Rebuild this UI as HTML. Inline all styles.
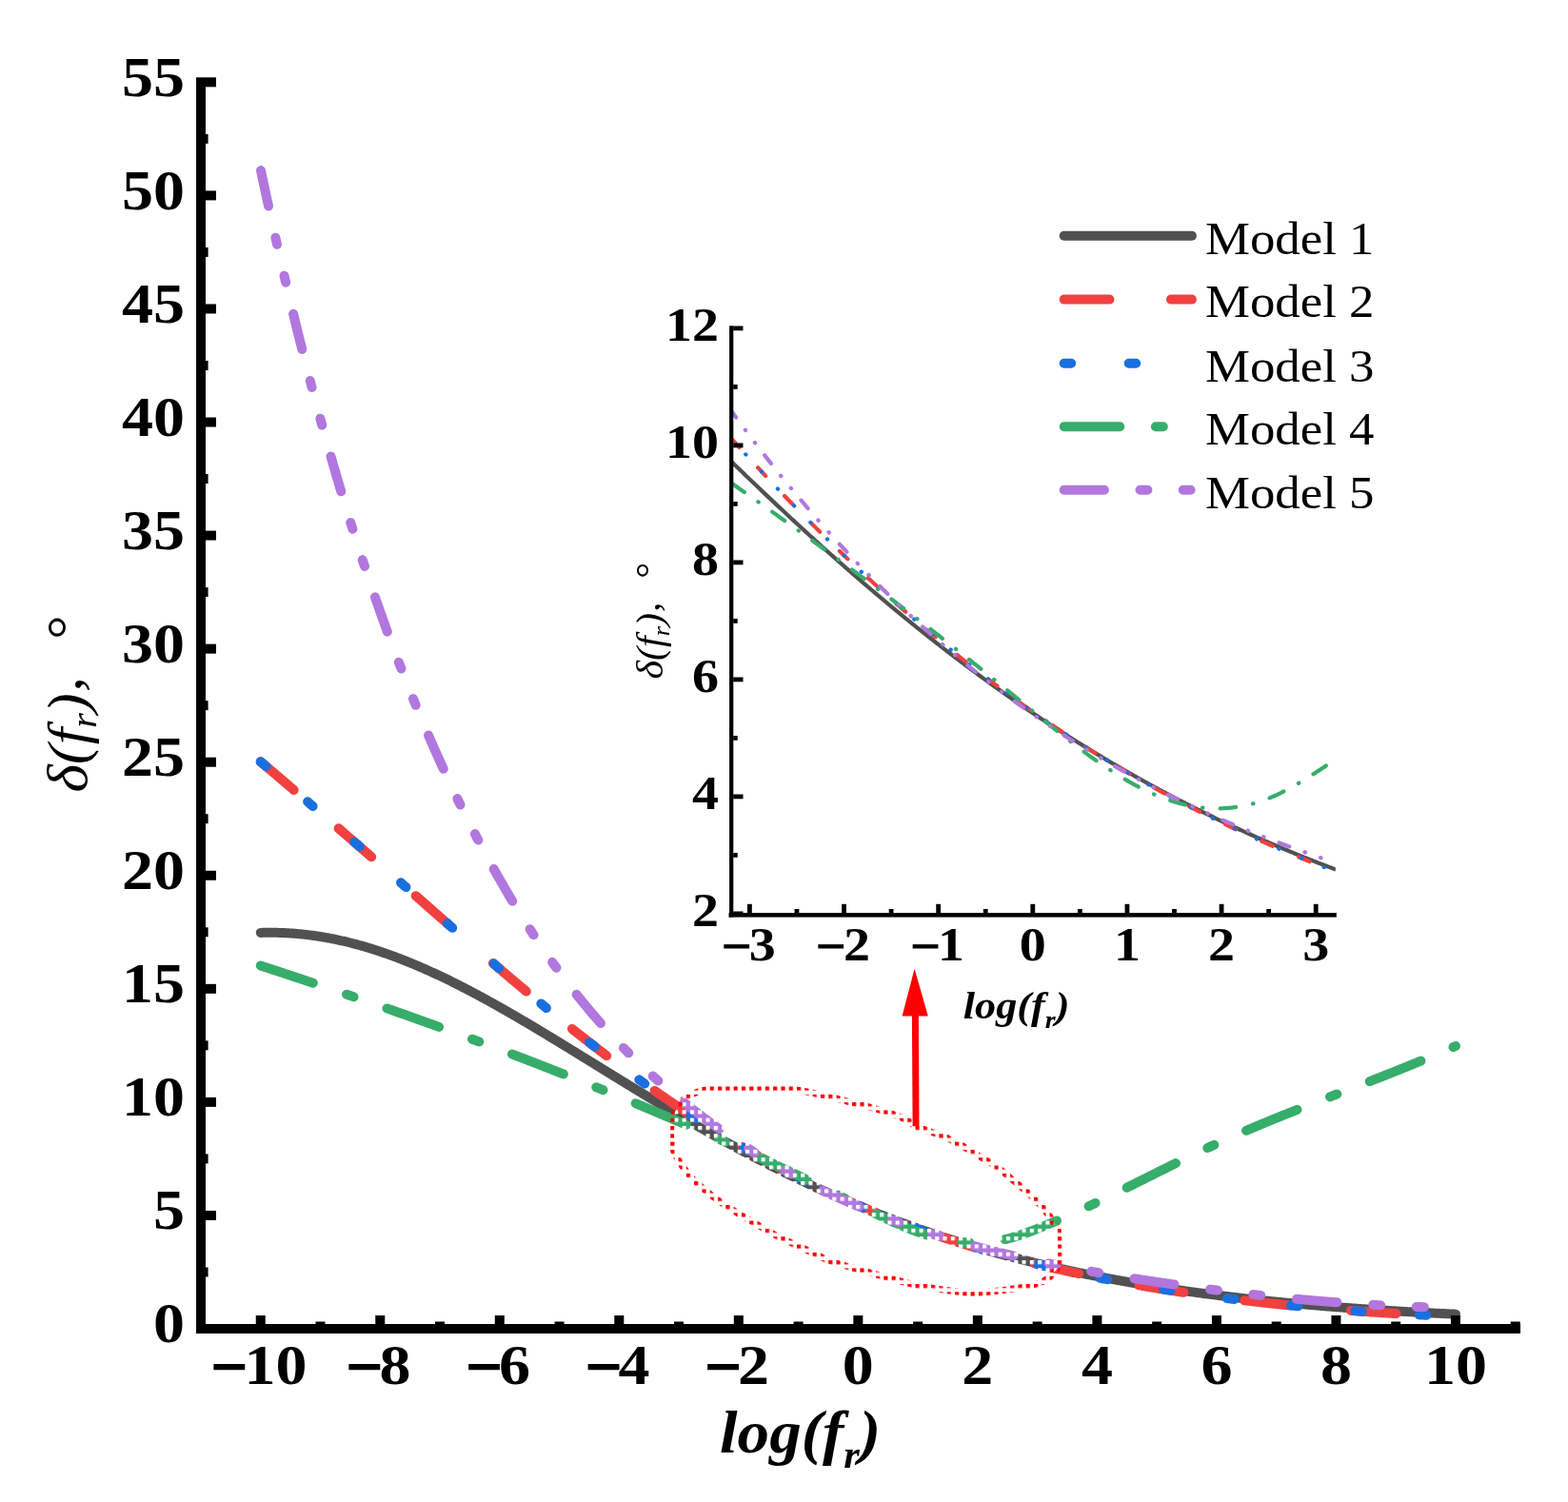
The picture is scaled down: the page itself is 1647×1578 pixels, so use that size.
<!DOCTYPE html>
<html><head><meta charset="utf-8"><title>Phase angle models</title>
<style>html,body{margin:0;padding:0;background:#fff;}svg{display:block;}
text{font-family:"Liberation Serif","DejaVu Serif",serif;fill:#000;}</style></head><body>
<svg width="1647" height="1578" viewBox="0 0 1647 1578">
<rect x="0" y="0" width="1647" height="1578" fill="#fff"/>
<defs>
<pattern id="pw" patternUnits="userSpaceOnUse" x="2.8" y="4.3" width="8.3" height="8.3"><rect x="0" y="0" width="4.1" height="4.1" fill="#fff"/></pattern>
<pattern id="pr" patternUnits="userSpaceOnUse" x="7.0" y="4.4" width="8.3" height="8.3"><rect x="0" y="0" width="4.2" height="4.2" fill="#f00"/></pattern>
<clipPath id="inclip"><rect x="768.2" y="300" width="634.6" height="700"/></clipPath>
</defs>
<path d="M273.75,979.93 L274.80,979.89 L275.84,979.87 L276.89,979.84 L277.94,979.82 L278.98,979.80 L280.03,979.79 L281.08,979.78 L282.12,979.77 L283.17,979.76 L284.22,979.76 L285.27,979.77 L286.31,979.77 L287.36,979.78 L288.41,979.79 L289.45,979.81 L290.50,979.83 L291.55,979.85 L292.59,979.88 L293.64,979.91 L294.69,979.94 L295.73,979.98 L296.78,980.02 L297.83,980.06 L298.87,980.11 L299.92,980.16 L300.97,980.21 L302.02,980.27 L303.06,980.33 L304.11,980.39 L305.16,980.46 L306.20,980.53 L307.25,980.60 L308.30,980.68 L309.34,980.76 L310.39,980.84 L311.44,980.93 L312.48,981.02 L313.53,981.11 L314.58,981.21 L315.62,981.31 L316.67,981.42 L317.72,981.52 L318.77,981.63 L319.81,981.75 L320.86,981.87 L321.91,981.99 L322.95,982.11 L324.00,982.24 L325.05,982.37 L326.09,982.50 L327.14,982.64 L328.19,982.78 L329.23,982.92 L330.28,983.07 L331.33,983.22 L332.37,983.37 L333.42,983.53 L334.47,983.69 L335.52,983.85 L336.56,984.02 L337.61,984.19 L338.66,984.36 L339.70,984.54 L340.75,984.72 L341.80,984.90 L342.84,985.09 L343.89,985.28 L344.94,985.47 L345.98,985.67 L347.03,985.87 L348.08,986.07 L349.12,986.27 L350.17,986.48 L351.22,986.69 L352.27,986.91 L353.31,987.13 L354.36,987.35 L355.41,987.57 L356.45,987.80 L357.50,988.03 L358.55,988.26 L359.59,988.50 L360.64,988.74 L361.69,988.98 L362.73,989.23 L363.78,989.48 L364.83,989.73 L365.87,989.99 L366.92,990.25 L367.97,990.51 L369.02,990.77 L370.06,991.04 L371.11,991.31 L372.16,991.58 L373.20,991.86 L374.25,992.14 L375.30,992.42 L376.34,992.71 L377.39,993.00 L378.44,993.29 L379.48,993.58 L380.53,993.88 L381.58,994.18 L382.62,994.49 L383.67,994.79 L384.72,995.10 L385.77,995.41 L386.81,995.73 L387.86,996.05 L388.91,996.37 L389.95,996.69 L391.00,997.02 L392.05,997.35 L393.09,997.68 L394.14,998.02 L395.19,998.35 L396.23,998.69 L397.28,999.04 L398.33,999.38 L399.37,999.73 L400.42,1000.09 L401.47,1000.44 L402.52,1000.80 L403.56,1001.16 L404.61,1001.52 L405.66,1001.89 L406.70,1002.25 L407.75,1002.63 L408.80,1003.00 L409.84,1003.38 L410.89,1003.75 L411.94,1004.14 L412.98,1004.52 L414.03,1004.91 L415.08,1005.30 L416.12,1005.69 L417.17,1006.08 L418.22,1006.48 L419.27,1006.88 L420.31,1007.28 L421.36,1007.69 L422.41,1008.09 L423.45,1008.50 L424.50,1008.92 L425.55,1009.33 L426.59,1009.75 L427.64,1010.17 L428.69,1010.59 L429.73,1011.02 L430.78,1011.44 L431.83,1011.87 L432.87,1012.30 L433.92,1012.74 L434.97,1013.18 L436.02,1013.62 L437.06,1014.06 L438.11,1014.50 L439.16,1014.95 L440.20,1015.40 L441.25,1015.85 L442.30,1016.30 L443.34,1016.75 L444.39,1017.21 L445.44,1017.67 L446.48,1018.13 L447.53,1018.60 L448.58,1019.06 L449.62,1019.53 L450.67,1020.00 L451.72,1020.48 L452.77,1020.95 L453.81,1021.43 L454.86,1021.91 L455.91,1022.39 L456.95,1022.87 L458.00,1023.36 L459.05,1023.85 L460.09,1024.34 L461.14,1024.83 L462.19,1025.32 L463.23,1025.82 L464.28,1026.32 L465.33,1026.82 L466.37,1027.32 L467.42,1027.83 L468.47,1028.33 L469.52,1028.84 L470.56,1029.35 L471.61,1029.86 L472.66,1030.37 L473.70,1030.89 L474.75,1031.41 L475.80,1031.93 L476.84,1032.45 L477.89,1032.97 L478.94,1033.50 L479.98,1034.02 L481.03,1034.55 L482.08,1035.08 L483.12,1035.61 L484.17,1036.15 L485.22,1036.68 L486.27,1037.22 L487.31,1037.76 L488.36,1038.30 L489.41,1038.84 L490.45,1039.39 L491.50,1039.93 L492.55,1040.48 L493.59,1041.03 L494.64,1041.58 L495.69,1042.13 L496.73,1042.68 L497.78,1043.24 L498.83,1043.80 L499.87,1044.35 L500.92,1044.91 L501.97,1045.48 L503.02,1046.04 L504.06,1046.60 L505.11,1047.17 L506.16,1047.74 L507.20,1048.31 L508.25,1048.88 L509.30,1049.45 L510.34,1050.02 L511.39,1050.59 L512.44,1051.17 L513.48,1051.75 L514.53,1052.33 L515.58,1052.91 L516.62,1053.49 L517.67,1054.07 L518.72,1054.65 L519.77,1055.24 L520.81,1055.82 L521.86,1056.41 L522.91,1057.00 L523.95,1057.59 L525.00,1058.18 L526.05,1058.77 L527.09,1059.37 L528.14,1059.96 L529.19,1060.56 L530.23,1061.15 L531.28,1061.75 L532.33,1062.35 L533.37,1062.95 L534.42,1063.55 L535.47,1064.16 L536.51,1064.76 L537.56,1065.36 L538.61,1065.97 L539.66,1066.58 L540.70,1067.18 L541.75,1067.79 L542.80,1068.40 L543.84,1069.01 L544.89,1069.62 L545.94,1070.24 L546.98,1070.85 L548.03,1071.46 L549.08,1072.08 L550.12,1072.70 L551.17,1073.31 L552.22,1073.93 L553.26,1074.55 L554.31,1075.17 L555.36,1075.79 L556.41,1076.41 L557.45,1077.03 L558.50,1077.65 L559.55,1078.28 L560.59,1078.90 L561.64,1079.53 L562.69,1080.15 L563.73,1080.78 L564.78,1081.40 L565.83,1082.03 L566.87,1082.66 L567.92,1083.29 L568.97,1083.92 L570.01,1084.55 L571.06,1085.18 L572.11,1085.81 L573.16,1086.44 L574.20,1087.08 L575.25,1087.71 L576.30,1088.34 L577.34,1088.98 L578.39,1089.61 L579.44,1090.25 L580.48,1090.88 L581.53,1091.52 L582.58,1092.16 L583.62,1092.79 L584.67,1093.43 L585.72,1094.07 L586.76,1094.71 L587.81,1095.35 L588.86,1095.99 L589.91,1096.63 L590.95,1097.27 L592.00,1097.91 L593.05,1098.55 L594.09,1099.19 L595.14,1099.83 L596.19,1100.47 L597.23,1101.11 L598.28,1101.76 L599.33,1102.40 L600.37,1103.04 L601.42,1103.68 L602.47,1104.33 L603.51,1104.97 L604.56,1105.62 L605.61,1106.26 L606.66,1106.90 L607.70,1107.55 L608.75,1108.19 L609.80,1108.84 L610.84,1109.48 L611.89,1110.13 L612.94,1110.77 L613.98,1111.42 L615.03,1112.07 L616.08,1112.71 L617.12,1113.36 L618.17,1114.00 L619.22,1114.65 L620.26,1115.30 L621.31,1115.94 L622.36,1116.59 L623.41,1117.23 L624.45,1117.88 L625.50,1118.53 L626.55,1119.17 L627.59,1119.82 L628.64,1120.46 L629.69,1121.11 L630.73,1121.76 L631.78,1122.40 L632.83,1123.05 L633.87,1123.69 L634.92,1124.34 L635.97,1124.99 L637.01,1125.63 L638.06,1126.28 L639.11,1126.92 L640.16,1127.57 L641.20,1128.21 L642.25,1128.86 L643.30,1129.50 L644.34,1130.15 L645.39,1130.79 L646.44,1131.44 L647.48,1132.08 L648.53,1132.72 L649.58,1133.37 L650.62,1134.01 L651.67,1134.65 L652.72,1135.30 L653.76,1135.94 L654.81,1136.58 L655.86,1137.22 L656.91,1137.86 L657.95,1138.51 L659.00,1139.15 L660.05,1139.79 L661.09,1140.43 L662.14,1141.07 L663.19,1141.71 L664.23,1142.35 L665.28,1142.99 L666.33,1143.63 L667.37,1144.26 L668.42,1144.90 L669.47,1145.54 L670.51,1146.18 L671.56,1146.81 L672.61,1147.45 L673.66,1148.09 L674.70,1148.72 L675.75,1149.36 L676.80,1149.99 L677.84,1150.62 L678.89,1151.26 L679.94,1151.89 L680.98,1152.52 L682.03,1153.16 L683.08,1153.79 L684.12,1154.42 L685.17,1155.05 L686.22,1155.68 L687.26,1156.31 L688.31,1156.94 L689.36,1157.57 L690.41,1158.20 L691.45,1158.82 L692.50,1159.45 L693.55,1160.08 L694.59,1160.70 L695.64,1161.33 L696.69,1161.95 L697.73,1162.58 L698.78,1163.20 L699.83,1163.82 L700.87,1164.44 L701.92,1165.06 L702.97,1165.69 L704.01,1166.31 L705.06,1166.93 L706.11,1167.54 L707.16,1168.16 L708.20,1168.78 L709.25,1169.40 L710.30,1170.01 L711.34,1170.63 L712.39,1171.24 L713.44,1171.86 L714.48,1172.47 L715.53,1173.08 L716.58,1173.70 L717.62,1174.31 L718.67,1174.92 L719.72,1175.53 L720.76,1176.14 L721.81,1176.75 L722.86,1177.35 L723.91,1177.96 L724.95,1178.57 L726.00,1179.17 L727.05,1179.78 L728.09,1180.38 L729.14,1180.98 L730.19,1181.58 L731.23,1182.19 L732.28,1182.79 L733.33,1183.39 L734.37,1183.99 L735.42,1184.58 L736.47,1185.18 L737.51,1185.78 L738.56,1186.37 L739.61,1186.97 L740.66,1187.56 L741.70,1188.16 L742.75,1188.75 L743.80,1189.34 L744.84,1189.93 L745.89,1190.52 L746.94,1191.11 L747.98,1191.70 L749.03,1192.28 L750.08,1192.87 L751.12,1193.45 L752.17,1194.04 L753.22,1194.62 L754.26,1195.20 L755.31,1195.79 L756.36,1196.37 L757.41,1196.95 L758.45,1197.53 L759.50,1198.10 L760.55,1198.68 L761.59,1199.26 L762.64,1199.83 L763.69,1200.41 L764.73,1200.98 L765.78,1201.55 L766.83,1202.12 L767.87,1202.69 L768.92,1203.26 L769.97,1203.83 L771.01,1204.40 L772.06,1204.97 L773.11,1205.53 L774.16,1206.10 L775.20,1206.66 L776.25,1207.22 L777.30,1207.79 L778.34,1208.35 L779.39,1208.91 L780.44,1209.47 L781.48,1210.02 L782.53,1210.58 L783.58,1211.14 L784.62,1211.69 L785.67,1212.24 L786.72,1212.80 L787.76,1213.35 L788.81,1213.90 L789.86,1214.45 L790.90,1215.00 L791.95,1215.55 L793.00,1216.09 L794.05,1216.64 L795.09,1217.18 L796.14,1217.73 L797.19,1218.27 L798.23,1218.81 L799.28,1219.35 L800.33,1219.89 L801.37,1220.43 L802.42,1220.97 L803.47,1221.50 L804.51,1222.04 L805.56,1222.57 L806.61,1223.10 L807.65,1223.64 L808.70,1224.17 L809.75,1224.70 L810.80,1225.23 L811.84,1225.75 L812.89,1226.28 L813.94,1226.80 L814.98,1227.33 L816.03,1227.85 L817.08,1228.38 L818.12,1228.90 L819.17,1229.42 L820.22,1229.94 L821.26,1230.45 L822.31,1230.97 L823.36,1231.49 L824.40,1232.00 L825.45,1232.51 L826.50,1233.03 L827.55,1233.54 L828.59,1234.05 L829.64,1234.56 L830.69,1235.07 L831.73,1235.57 L832.78,1236.08 L833.83,1236.58 L834.87,1237.09 L835.92,1237.59 L836.97,1238.09 L838.01,1238.59 L839.06,1239.09 L840.11,1239.59 L841.15,1240.09 L842.20,1240.58 L843.25,1241.08 L844.30,1241.57 L845.34,1242.06 L846.39,1242.55 L847.44,1243.04 L848.48,1243.53 L849.53,1244.02 L850.58,1244.51 L851.62,1245.00 L852.67,1245.48 L853.72,1245.96 L854.76,1246.45 L855.81,1246.93 L856.86,1247.41 L857.90,1247.89 L858.95,1248.36 L860.00,1248.84 L861.05,1249.32 L862.09,1249.79 L863.14,1250.27 L864.19,1250.74 L865.23,1251.21 L866.28,1251.68 L867.33,1252.15 L868.37,1252.62 L869.42,1253.08 L870.47,1253.55 L871.51,1254.01 L872.56,1254.48 L873.61,1254.94 L874.65,1255.40 L875.70,1255.86 L876.75,1256.32 L877.80,1256.78 L878.84,1257.23 L879.89,1257.69 L880.94,1258.14 L881.98,1258.59 L883.03,1259.05 L884.08,1259.50 L885.12,1259.95 L886.17,1260.40 L887.22,1260.84 L888.26,1261.29 L889.31,1261.74 L890.36,1262.18 L891.40,1262.62 L892.45,1263.06 L893.50,1263.50 L894.55,1263.94 L895.59,1264.38 L896.64,1264.82 L897.69,1265.26 L898.73,1265.69 L899.78,1266.13 L900.83,1266.56 L901.87,1266.99 L902.92,1267.42 L903.97,1267.85 L905.01,1268.28 L906.06,1268.71 L907.11,1269.13 L908.15,1269.56 L909.20,1269.98 L910.25,1270.40 L911.30,1270.82 L912.34,1271.25 L913.39,1271.66 L914.44,1272.08 L915.48,1272.50 L916.53,1272.92 L917.58,1273.33 L918.62,1273.74 L919.67,1274.16 L920.72,1274.57 L921.76,1274.98 L922.81,1275.39 L923.86,1275.80 L924.90,1276.20 L925.95,1276.61 L927.00,1277.01 L928.05,1277.42 L929.09,1277.82 L930.14,1278.22 L931.19,1278.62 L932.23,1279.02 L933.28,1279.42 L934.33,1279.82 L935.37,1280.21 L936.42,1280.61 L937.47,1281.00 L938.51,1281.40 L939.56,1281.79 L940.61,1282.18 L941.65,1282.57 L942.70,1282.96 L943.75,1283.34 L944.80,1283.73 L945.84,1284.11 L946.89,1284.50 L947.94,1284.88 L948.98,1285.26 L950.03,1285.64 L951.08,1286.02 L952.12,1286.40 L953.17,1286.78 L954.22,1287.16 L955.26,1287.53 L956.31,1287.90 L957.36,1288.28 L958.40,1288.65 L959.45,1289.02 L960.50,1289.39 L961.55,1289.76 L962.59,1290.13 L963.64,1290.49 L964.69,1290.86 L965.73,1291.23 L966.78,1291.59 L967.83,1291.95 L968.87,1292.31 L969.92,1292.67 L970.97,1293.03 L972.01,1293.39 L973.06,1293.75 L974.11,1294.10 L975.15,1294.46 L976.20,1294.81 L977.25,1295.17 L978.30,1295.52 L979.34,1295.87 L980.39,1296.22 L981.44,1296.57 L982.48,1296.92 L983.53,1297.26 L984.58,1297.61 L985.62,1297.95 L986.67,1298.30 L987.72,1298.64 L988.76,1298.98 L989.81,1299.32 L990.86,1299.66 L991.90,1300.00 L992.95,1300.34 L994.00,1300.67 L995.05,1301.01 L996.09,1301.34 L997.14,1301.68 L998.19,1302.01 L999.23,1302.34 L1000.28,1302.67 L1001.33,1303.00 L1002.37,1303.33 L1003.42,1303.66 L1004.47,1303.98 L1005.51,1304.31 L1006.56,1304.63 L1007.61,1304.95 L1008.65,1305.28 L1009.70,1305.60 L1010.75,1305.92 L1011.80,1306.24 L1012.84,1306.56 L1013.89,1306.87 L1014.94,1307.19 L1015.98,1307.51 L1017.03,1307.82 L1018.08,1308.13 L1019.12,1308.45 L1020.17,1308.76 L1021.22,1309.07 L1022.26,1309.38 L1023.31,1309.69 L1024.36,1309.99 L1025.40,1310.30 L1026.45,1310.61 L1027.50,1310.91 L1028.54,1311.21 L1029.59,1311.52 L1030.64,1311.82 L1031.69,1312.12 L1032.73,1312.42 L1033.78,1312.72 L1034.83,1313.02 L1035.87,1313.31 L1036.92,1313.61 L1037.97,1313.90 L1039.01,1314.20 L1040.06,1314.49 L1041.11,1314.78 L1042.15,1315.08 L1043.20,1315.37 L1044.25,1315.66 L1045.29,1315.94 L1046.34,1316.23 L1047.39,1316.52 L1048.44,1316.80 L1049.48,1317.09 L1050.53,1317.37 L1051.58,1317.66 L1052.62,1317.94 L1053.67,1318.22 L1054.72,1318.50 L1055.76,1318.78 L1056.81,1319.06 L1057.86,1319.33 L1058.90,1319.61 L1059.95,1319.89 L1061.00,1320.16 L1062.04,1320.44 L1063.09,1320.71 L1064.14,1320.98 L1065.19,1321.25 L1066.23,1321.52 L1067.28,1321.79 L1068.33,1322.06 L1069.37,1322.33 L1070.42,1322.60 L1071.47,1322.86 L1072.51,1323.13 L1073.56,1323.39 L1074.61,1323.65 L1075.65,1323.92 L1076.70,1324.18 L1077.75,1324.44 L1078.79,1324.70 L1079.84,1324.96 L1080.89,1325.22 L1081.94,1325.47 L1082.98,1325.73 L1084.03,1325.98 L1085.08,1326.24 L1086.12,1326.49 L1087.17,1326.75 L1088.22,1327.00 L1089.26,1327.25 L1090.31,1327.50 L1091.36,1327.75 L1092.40,1328.00 L1093.45,1328.25 L1094.50,1328.49 L1095.54,1328.74 L1096.59,1328.98 L1097.64,1329.23 L1098.69,1329.47 L1099.73,1329.72 L1100.78,1329.96 L1101.83,1330.20 L1102.87,1330.44 L1103.92,1330.68 L1104.97,1330.92 L1106.01,1331.16 L1107.06,1331.39 L1108.11,1331.63 L1109.15,1331.87 L1110.20,1332.10 L1111.25,1332.33 L1112.29,1332.57 L1113.34,1332.80 L1114.39,1333.03 L1115.44,1333.26 L1116.48,1333.49 L1117.53,1333.72 L1118.58,1333.95 L1119.62,1334.18 L1120.67,1334.40 L1121.72,1334.63 L1122.76,1334.85 L1123.81,1335.08 L1124.86,1335.30 L1125.90,1335.53 L1126.95,1335.75 L1128.00,1335.97 L1129.04,1336.19 L1130.09,1336.41 L1131.14,1336.63 L1132.19,1336.85 L1133.23,1337.06 L1134.28,1337.28 L1135.33,1337.50 L1136.37,1337.71 L1137.42,1337.93 L1138.47,1338.14 L1139.51,1338.35 L1140.56,1338.57 L1141.61,1338.78 L1142.65,1338.99 L1143.70,1339.20 L1144.75,1339.41 L1145.79,1339.62 L1146.84,1339.82 L1147.89,1340.03 L1148.94,1340.24 L1149.98,1340.44 L1151.03,1340.65 L1152.08,1340.85 L1153.12,1341.06 L1154.17,1341.26 L1155.22,1341.46 L1156.26,1341.66 L1157.31,1341.86 L1158.36,1342.06 L1159.40,1342.26 L1160.45,1342.46 L1161.50,1342.66 L1162.54,1342.86 L1163.59,1343.05 L1164.64,1343.25 L1165.69,1343.44 L1166.73,1343.64 L1167.78,1343.83 L1168.83,1344.02 L1169.87,1344.22 L1170.92,1344.41 L1171.97,1344.60 L1173.01,1344.79 L1174.06,1344.98 L1175.11,1345.17 L1176.15,1345.35 L1177.20,1345.54 L1178.25,1345.73 L1179.29,1345.91 L1180.34,1346.10 L1181.39,1346.28 L1182.44,1346.47 L1183.48,1346.65 L1184.53,1346.83 L1185.58,1347.02 L1186.62,1347.20 L1187.67,1347.38 L1188.72,1347.56 L1189.76,1347.74 L1190.81,1347.92 L1191.86,1348.10 L1192.90,1348.27 L1193.95,1348.45 L1195.00,1348.63 L1196.04,1348.80 L1197.09,1348.98 L1198.14,1349.15 L1199.19,1349.32 L1200.23,1349.50 L1201.28,1349.67 L1202.33,1349.84 L1203.37,1350.01 L1204.42,1350.18 L1205.47,1350.35 L1206.51,1350.52 L1207.56,1350.69 L1208.61,1350.86 L1209.65,1351.03 L1210.70,1351.19 L1211.75,1351.36 L1212.79,1351.52 L1213.84,1351.69 L1214.89,1351.85 L1215.94,1352.02 L1216.98,1352.18 L1218.03,1352.34 L1219.08,1352.50 L1220.12,1352.67 L1221.17,1352.83 L1222.22,1352.99 L1223.26,1353.15 L1224.31,1353.30 L1225.36,1353.46 L1226.40,1353.62 L1227.45,1353.78 L1228.50,1353.93 L1229.54,1354.09 L1230.59,1354.25 L1231.64,1354.40 L1232.69,1354.55 L1233.73,1354.71 L1234.78,1354.86 L1235.83,1355.01 L1236.87,1355.17 L1237.92,1355.32 L1238.97,1355.47 L1240.01,1355.62 L1241.06,1355.77 L1242.11,1355.92 L1243.15,1356.07 L1244.20,1356.21 L1245.25,1356.36 L1246.29,1356.51 L1247.34,1356.65 L1248.39,1356.80 L1249.44,1356.94 L1250.48,1357.09 L1251.53,1357.23 L1252.58,1357.38 L1253.62,1357.52 L1254.67,1357.66 L1255.72,1357.80 L1256.76,1357.95 L1257.81,1358.09 L1258.86,1358.23 L1259.90,1358.37 L1260.95,1358.51 L1262.00,1358.64 L1263.04,1358.78 L1264.09,1358.92 L1265.14,1359.06 L1266.19,1359.19 L1267.23,1359.33 L1268.28,1359.47 L1269.33,1359.60 L1270.37,1359.74 L1271.42,1359.87 L1272.47,1360.00 L1273.51,1360.14 L1274.56,1360.27 L1275.61,1360.40 L1276.65,1360.53 L1277.70,1360.66 L1278.75,1360.79 L1279.79,1360.92 L1280.84,1361.05 L1281.89,1361.18 L1282.93,1361.31 L1283.98,1361.44 L1285.03,1361.57 L1286.08,1361.69 L1287.12,1361.82 L1288.17,1361.94 L1289.22,1362.07 L1290.26,1362.20 L1291.31,1362.32 L1292.36,1362.44 L1293.40,1362.57 L1294.45,1362.69 L1295.50,1362.81 L1296.54,1362.94 L1297.59,1363.06 L1298.64,1363.18 L1299.68,1363.30 L1300.73,1363.42 L1301.78,1363.54 L1302.83,1363.66 L1303.87,1363.78 L1304.92,1363.90 L1305.97,1364.01 L1307.01,1364.13 L1308.06,1364.25 L1309.11,1364.36 L1310.15,1364.48 L1311.20,1364.60 L1312.25,1364.71 L1313.29,1364.83 L1314.34,1364.94 L1315.39,1365.05 L1316.43,1365.17 L1317.48,1365.28 L1318.53,1365.39 L1319.58,1365.50 L1320.62,1365.62 L1321.67,1365.73 L1322.72,1365.84 L1323.76,1365.95 L1324.81,1366.06 L1325.86,1366.17 L1326.90,1366.28 L1327.95,1366.38 L1329.00,1366.49 L1330.04,1366.60 L1331.09,1366.71 L1332.14,1366.81 L1333.18,1366.92 L1334.23,1367.03 L1335.28,1367.13 L1336.33,1367.24 L1337.37,1367.34 L1338.42,1367.44 L1339.47,1367.55 L1340.51,1367.65 L1341.56,1367.75 L1342.61,1367.86 L1343.65,1367.96 L1344.70,1368.06 L1345.75,1368.16 L1346.79,1368.26 L1347.84,1368.36 L1348.89,1368.46 L1349.93,1368.56 L1350.98,1368.66 L1352.03,1368.76 L1353.08,1368.86 L1354.12,1368.96 L1355.17,1369.06 L1356.22,1369.15 L1357.26,1369.25 L1358.31,1369.35 L1359.36,1369.44 L1360.40,1369.54 L1361.45,1369.63 L1362.50,1369.73 L1363.54,1369.82 L1364.59,1369.92 L1365.64,1370.01 L1366.68,1370.10 L1367.73,1370.20 L1368.78,1370.29 L1369.83,1370.38 L1370.87,1370.47 L1371.92,1370.57 L1372.97,1370.66 L1374.01,1370.75 L1375.06,1370.84 L1376.11,1370.93 L1377.15,1371.02 L1378.20,1371.11 L1379.25,1371.20 L1380.29,1371.28 L1381.34,1371.37 L1382.39,1371.46 L1383.43,1371.55 L1384.48,1371.63 L1385.53,1371.72 L1386.58,1371.81 L1387.62,1371.89 L1388.67,1371.98 L1389.72,1372.06 L1390.76,1372.15 L1391.81,1372.23 L1392.86,1372.32 L1393.90,1372.40 L1394.95,1372.49 L1396.00,1372.57 L1397.04,1372.65 L1398.09,1372.73 L1399.14,1372.82 L1400.18,1372.90 L1401.23,1372.98 L1402.28,1373.06 L1403.33,1373.14 L1404.37,1373.22 L1405.42,1373.30 L1406.47,1373.38 L1407.51,1373.46 L1408.56,1373.54 L1409.61,1373.62 L1410.65,1373.70 L1411.70,1373.77 L1412.75,1373.85 L1413.79,1373.93 L1414.84,1374.01 L1415.89,1374.08 L1416.93,1374.16 L1417.98,1374.24 L1419.03,1374.31 L1420.08,1374.39 L1421.12,1374.46 L1422.17,1374.54 L1423.22,1374.61 L1424.26,1374.69 L1425.31,1374.76 L1426.36,1374.83 L1427.40,1374.91 L1428.45,1374.98 L1429.50,1375.05 L1430.54,1375.12 L1431.59,1375.20 L1432.64,1375.27 L1433.68,1375.34 L1434.73,1375.41 L1435.78,1375.48 L1436.83,1375.55 L1437.87,1375.62 L1438.92,1375.69 L1439.97,1375.76 L1441.01,1375.83 L1442.06,1375.90 L1443.11,1375.97 L1444.15,1376.03 L1445.20,1376.10 L1446.25,1376.17 L1447.29,1376.24 L1448.34,1376.30 L1449.39,1376.37 L1450.43,1376.44 L1451.48,1376.50 L1452.53,1376.57 L1453.58,1376.64 L1454.62,1376.70 L1455.67,1376.77 L1456.72,1376.83 L1457.76,1376.89 L1458.81,1376.96 L1459.86,1377.02 L1460.90,1377.09 L1461.95,1377.15 L1463.00,1377.21 L1464.04,1377.28 L1465.09,1377.34 L1466.14,1377.40 L1467.18,1377.46 L1468.23,1377.52 L1469.28,1377.59 L1470.33,1377.65 L1471.37,1377.71 L1472.42,1377.77 L1473.47,1377.83 L1474.51,1377.89 L1475.56,1377.95 L1476.61,1378.01 L1477.65,1378.07 L1478.70,1378.13 L1479.75,1378.18 L1480.79,1378.24 L1481.84,1378.30 L1482.89,1378.36 L1483.93,1378.42 L1484.98,1378.47 L1486.03,1378.53 L1487.08,1378.59 L1488.12,1378.64 L1489.17,1378.70 L1490.22,1378.76 L1491.26,1378.81 L1492.31,1378.87 L1493.36,1378.92 L1494.40,1378.98 L1495.45,1379.03 L1496.50,1379.09 L1497.54,1379.14 L1498.59,1379.20 L1499.64,1379.25 L1500.68,1379.30 L1501.73,1379.36 L1502.78,1379.41 L1503.83,1379.46 L1504.87,1379.51 L1505.92,1379.57 L1506.97,1379.62 L1508.01,1379.67 L1509.06,1379.72 L1510.11,1379.77 L1511.15,1379.82 L1512.20,1379.87 L1513.25,1379.93 L1514.29,1379.98 L1515.34,1380.03 L1516.39,1380.08 L1517.43,1380.12 L1518.48,1380.17 L1519.53,1380.22 L1520.58,1380.27 L1521.62,1380.32 L1522.67,1380.37 L1523.72,1380.42 L1524.76,1380.47 L1525.81,1380.51 L1526.86,1380.56 L1527.90,1380.61 L1528.95,1380.66" fill="none" stroke="#515151" stroke-width="10" stroke-linecap="round" stroke-linejoin="round"/>
<path d="M273.75,800.23 L274.80,801.12 L275.84,802.01 L276.89,802.90 L277.94,803.79 L278.98,804.68 L280.03,805.57 L281.08,806.46 L282.12,807.35 L283.17,808.24 L284.22,809.13 L285.27,810.01 L286.31,810.90 L287.36,811.79 L288.41,812.68 L289.45,813.57 L290.50,814.46 L291.55,815.35 L292.59,816.24 L293.64,817.14 L294.69,818.03 L295.73,818.92 L296.78,819.81 L297.83,820.70 L298.87,821.59 L299.92,822.48 L300.97,823.37 L302.02,824.27 L303.06,825.16 L304.11,826.05 L305.16,826.94 L306.20,827.84 L307.25,828.73 L308.30,829.62 L308.63,829.91M355.66,870.30 L356.45,870.99 L357.50,871.90 L358.55,872.80 L359.59,873.71 L360.64,874.62 L361.69,875.52 L362.73,876.43 L363.78,877.34 L364.83,878.25 L365.87,879.16 L366.92,880.06 L367.97,880.97 L369.02,881.88 L370.06,882.79 L371.11,883.70 L372.16,884.61 L373.20,885.52 L374.25,886.43 L375.30,887.34 L376.34,888.25 L377.39,889.17 L378.44,890.08 L379.48,890.99 L380.53,891.90 L381.58,892.81 L382.62,893.73 L383.67,894.64 L384.72,895.55 L385.77,896.47 L386.81,897.38 L387.86,898.29 L388.91,899.21 L389.95,900.12 L390.18,900.32M436.75,941.15 L437.06,941.42 L438.11,942.34 L439.16,943.26 L440.20,944.18 L441.25,945.10 L442.30,946.02 L443.34,946.94 L444.39,947.86 L445.44,948.78 L446.48,949.70 L447.53,950.62 L448.58,951.54 L449.62,952.46 L450.67,953.38 L451.72,954.30 L452.77,955.22 L453.81,956.13 L454.86,957.05 L455.91,957.97 L456.95,958.89 L458.00,959.81 L459.05,960.73 L460.09,961.65 L461.14,962.56 L462.19,963.48 L463.23,964.40 L464.28,965.32 L465.33,966.23 L466.37,967.15 L467.42,968.07 L468.47,968.99 L469.52,969.90 L470.56,970.82 L471.12,971.31M517.91,1011.93 L518.72,1012.62 L519.77,1013.52 L520.81,1014.42 L521.86,1015.32 L522.91,1016.21 L523.95,1017.11 L525.00,1018.00 L526.05,1018.90 L527.09,1019.79 L528.14,1020.69 L529.19,1021.58 L530.23,1022.47 L531.28,1023.36 L532.33,1024.26 L533.37,1025.15 L534.42,1026.04 L535.47,1026.93 L536.51,1027.81 L537.56,1028.70 L538.61,1029.59 L539.66,1030.47 L540.70,1031.36 L541.75,1032.25 L542.80,1033.13 L543.84,1034.01 L544.89,1034.90 L545.94,1035.78 L546.98,1036.66 L548.03,1037.54 L549.08,1038.42 L550.12,1039.30 L551.17,1040.18 L552.22,1041.06 L552.83,1041.57M600.92,1080.90 L601.42,1081.30 L602.47,1082.14 L603.51,1082.97 L604.56,1083.80 L605.61,1084.63 L606.66,1085.46 L607.70,1086.29 L608.75,1087.11 L609.80,1087.94 L610.84,1088.76 L611.89,1089.58 L612.94,1090.41 L613.98,1091.23 L615.03,1092.05 L616.08,1092.86 L617.12,1093.68 L618.17,1094.50 L619.22,1095.31 L620.26,1096.13 L621.31,1096.94 L622.36,1097.75 L623.41,1098.56 L624.45,1099.37 L625.50,1100.18 L626.55,1100.99 L627.59,1101.79 L628.64,1102.60 L629.69,1103.40 L630.73,1104.20 L631.78,1105.01 L632.83,1105.81 L633.87,1106.60 L634.92,1107.40 L635.97,1108.20 L637.01,1108.99 L637.21,1109.14M687.65,1145.94 L688.31,1146.40 L689.36,1147.13 L690.41,1147.86 L691.45,1148.58 L692.50,1149.31 L693.55,1150.03 L694.59,1150.76 L695.64,1151.48 L696.69,1152.20 L697.73,1152.92 L698.78,1153.64 L699.83,1154.35 L700.87,1155.07 L701.92,1155.78 L702.97,1156.50 L704.01,1157.21 L705.06,1157.92 L706.11,1158.62 L707.16,1159.33 L708.20,1160.04 L709.25,1160.74 L710.30,1161.44 L711.34,1162.14 L712.39,1162.84 L713.44,1163.54 L714.48,1164.24 L715.53,1164.94 L716.58,1165.63 L717.62,1166.32 L718.67,1167.01 L719.72,1167.70 L720.76,1168.39 L721.81,1169.08 L722.86,1169.77 L723.91,1170.45 L724.95,1171.13 L725.99,1171.81M779.52,1204.79 L780.44,1205.32 L781.48,1205.93 L782.53,1206.53 L783.58,1207.14 L784.62,1207.74 L785.67,1208.34 L786.72,1208.94 L787.76,1209.54 L788.81,1210.14 L789.86,1210.73 L790.90,1211.32 L791.95,1211.92 L793.00,1212.51 L794.05,1213.10 L795.09,1213.69 L796.14,1214.27 L797.19,1214.86 L798.23,1215.44 L799.28,1216.03 L800.33,1216.61 L801.37,1217.19 L802.42,1217.77 L803.47,1218.34 L804.51,1218.92 L805.56,1219.49 L806.61,1220.07 L807.65,1220.64 L808.70,1221.21 L809.75,1221.78 L810.80,1222.35 L811.84,1222.91 L812.89,1223.48 L813.94,1224.04 L814.98,1224.60 L816.03,1225.16 L817.08,1225.72 L818.12,1226.28 L819.17,1226.84 L820.22,1227.39 L820.25,1227.41M877.05,1255.46 L877.80,1255.81 L878.84,1256.28 L879.89,1256.76 L880.94,1257.24 L881.98,1257.71 L883.03,1258.19 L884.08,1258.66 L885.12,1259.13 L886.17,1259.60 L887.22,1260.06 L888.26,1260.53 L889.31,1261.00 L890.36,1261.46 L891.40,1261.92 L892.45,1262.38 L893.50,1262.84 L894.55,1263.30 L895.59,1263.76 L896.64,1264.21 L897.69,1264.67 L898.73,1265.12 L899.78,1265.57 L900.83,1266.02 L901.87,1266.47 L902.92,1266.92 L903.97,1267.37 L905.01,1267.81 L906.06,1268.26 L907.11,1268.70 L908.15,1269.14 L909.20,1269.58 L910.25,1270.02 L911.30,1270.46 L912.34,1270.89 L913.39,1271.33 L914.44,1271.76 L915.48,1272.19 L916.53,1272.62 L917.58,1273.05 L918.62,1273.48 L919.67,1273.91 L920.15,1274.10M979.92,1296.41 L980.39,1296.57 L981.44,1296.92 L982.48,1297.28 L983.53,1297.63 L984.58,1297.98 L985.62,1298.34 L986.67,1298.69 L987.72,1299.04 L988.76,1299.38 L989.81,1299.73 L990.86,1300.08 L991.90,1300.42 L992.95,1300.76 L994.00,1301.11 L995.05,1301.45 L996.09,1301.79 L997.14,1302.13 L998.19,1302.47 L999.23,1302.80 L1000.28,1303.14 L1001.33,1303.47 L1002.37,1303.81 L1003.42,1304.14 L1004.47,1304.47 L1005.51,1304.80 L1006.56,1305.13 L1007.61,1305.46 L1008.65,1305.79 L1009.70,1306.11 L1010.75,1306.44 L1011.80,1306.76 L1012.84,1307.09 L1013.89,1307.41 L1014.94,1307.73 L1015.98,1308.05 L1017.03,1308.37 L1018.08,1308.69 L1019.12,1309.00 L1020.17,1309.32 L1021.22,1309.63 L1022.26,1309.95 L1023.31,1310.26 L1024.36,1310.57 L1024.95,1310.75M1086.88,1327.50 L1087.17,1327.57 L1088.22,1327.83 L1089.26,1328.08 L1090.31,1328.34 L1091.36,1328.59 L1092.40,1328.85 L1093.45,1329.10 L1094.50,1329.35 L1095.54,1329.60 L1096.59,1329.85 L1097.64,1330.10 L1098.69,1330.35 L1099.73,1330.60 L1100.78,1330.85 L1101.83,1331.09 L1102.87,1331.34 L1103.92,1331.58 L1104.97,1331.83 L1106.01,1332.07 L1107.06,1332.31 L1108.11,1332.55 L1109.15,1332.79 L1110.20,1333.03 L1111.25,1333.27 L1112.29,1333.51 L1113.34,1333.75 L1114.39,1333.99 L1115.44,1334.22 L1116.48,1334.46 L1117.53,1334.69 L1118.58,1334.93 L1119.62,1335.16 L1120.67,1335.39 L1121.72,1335.62 L1122.76,1335.86 L1123.81,1336.09 L1124.86,1336.32 L1125.90,1336.54 L1126.95,1336.77 L1128.00,1337.00 L1129.04,1337.23 L1130.09,1337.45 L1131.14,1337.68 L1132.19,1337.90 L1133.14,1338.10M1196.34,1350.30 L1197.09,1350.43 L1198.14,1350.61 L1199.19,1350.79 L1200.23,1350.97 L1201.28,1351.15 L1202.33,1351.33 L1203.37,1351.51 L1204.42,1351.69 L1205.47,1351.86 L1206.51,1352.04 L1207.56,1352.21 L1208.61,1352.39 L1209.65,1352.56 L1210.70,1352.74 L1211.75,1352.91 L1212.79,1353.08 L1213.84,1353.25 L1214.89,1353.43 L1215.94,1353.60 L1216.98,1353.77 L1218.03,1353.94 L1219.08,1354.10 L1220.12,1354.27 L1221.17,1354.44 L1222.22,1354.61 L1223.26,1354.77 L1224.31,1354.94 L1225.36,1355.11 L1226.40,1355.27 L1227.45,1355.43 L1228.50,1355.60 L1229.54,1355.76 L1230.59,1355.92 L1231.64,1356.08 L1232.69,1356.25 L1233.73,1356.41 L1234.78,1356.57 L1235.83,1356.73 L1236.87,1356.88 L1237.92,1357.04 L1238.97,1357.20 L1240.01,1357.36 L1241.06,1357.51 L1242.11,1357.67 L1243.15,1357.83 L1243.31,1357.85M1307.24,1366.32 L1308.06,1366.41 L1309.11,1366.53 L1310.15,1366.66 L1311.20,1366.78 L1312.25,1366.90 L1313.29,1367.02 L1314.34,1367.14 L1315.39,1367.26 L1316.43,1367.38 L1317.48,1367.50 L1318.53,1367.61 L1319.58,1367.73 L1320.62,1367.85 L1321.67,1367.97 L1322.72,1368.08 L1323.76,1368.20 L1324.81,1368.31 L1325.86,1368.43 L1326.90,1368.54 L1327.95,1368.66 L1329.00,1368.77 L1330.04,1368.88 L1331.09,1369.00 L1332.14,1369.11 L1333.18,1369.22 L1334.23,1369.33 L1335.28,1369.44 L1336.33,1369.55 L1337.37,1369.66 L1338.42,1369.77 L1339.47,1369.88 L1340.51,1369.99 L1341.56,1370.10 L1342.61,1370.20 L1343.65,1370.31 L1344.70,1370.42 L1345.75,1370.52 L1346.79,1370.63 L1347.84,1370.74 L1348.89,1370.84 L1349.93,1370.94 L1350.98,1371.05 L1352.03,1371.15 L1353.08,1371.26 L1354.12,1371.36 L1354.61,1371.41M1418.92,1376.91 L1419.03,1376.92 L1420.08,1376.99 L1421.12,1377.07 L1422.17,1377.15 L1423.22,1377.22 L1424.26,1377.30 L1425.31,1377.37 L1426.36,1377.45 L1427.40,1377.52 L1428.45,1377.60 L1429.50,1377.67 L1430.54,1377.74 L1431.59,1377.82 L1432.64,1377.89 L1433.68,1377.96 L1434.73,1378.04 L1435.78,1378.11 L1436.83,1378.18 L1437.87,1378.25 L1438.92,1378.32 L1439.97,1378.39 L1441.01,1378.46 L1442.06,1378.53 L1443.11,1378.60 L1444.15,1378.67 L1445.20,1378.73 L1446.25,1378.80 L1447.29,1378.87 L1448.34,1378.94 L1449.39,1379.00 L1450.43,1379.07 L1451.48,1379.14 L1452.53,1379.20 L1453.58,1379.27 L1454.62,1379.33 L1455.67,1379.40 L1456.72,1379.46 L1457.76,1379.53 L1458.81,1379.59 L1459.86,1379.65 L1460.90,1379.72 L1461.95,1379.78 L1463.00,1379.84 L1464.04,1379.90 L1465.09,1379.97 L1466.14,1380.03 L1466.50,1380.05" fill="none" stroke="#F14040" stroke-width="10" stroke-linecap="round" stroke-linejoin="round"/>
<path d="M273.75,800.23 L274.80,801.12 L275.84,802.01 L276.89,802.90 L277.94,803.79 L278.98,804.68 L279.24,804.90M323.15,842.32 L324.00,843.05 L325.05,843.95 L326.09,844.84 L327.14,845.74 L328.19,846.64 L328.61,847.00M372.25,884.69 L373.20,885.52 L374.25,886.43 L375.30,887.34 L376.34,888.25 L377.39,889.17 L377.68,889.41M421.05,927.36 L421.36,927.63 L422.41,928.55 L423.45,929.47 L424.50,930.39 L425.55,931.31 L426.45,932.10M469.75,970.11 L470.56,970.82 L471.61,971.73 L472.66,972.65 L473.70,973.57 L474.75,974.48 L475.17,974.85M518.71,1012.62 L518.72,1012.62 L519.77,1013.52 L520.81,1014.42 L521.86,1015.32 L522.91,1016.21 L523.95,1017.11 L524.18,1017.30M568.35,1054.47 L568.97,1054.98 L570.01,1055.85 L571.06,1056.71 L572.11,1057.57 L573.16,1058.43 L573.91,1059.06M619.08,1095.21 L619.22,1095.31 L620.26,1096.13 L621.31,1096.94 L622.36,1097.75 L623.41,1098.56 L624.45,1099.37 L624.80,1099.64M671.31,1134.35 L671.56,1134.53 L672.61,1135.28 L673.66,1136.03 L674.70,1136.78 L675.75,1137.53 L676.80,1138.28 L677.21,1138.57M725.34,1171.39 L726.00,1171.81 L727.05,1172.50 L728.09,1173.17 L729.14,1173.85 L730.19,1174.53 L731.23,1175.20 L731.46,1175.35M781.37,1205.86 L781.48,1205.93 L782.53,1206.53 L783.58,1207.14 L784.62,1207.74 L785.67,1208.34 L786.72,1208.94 L787.72,1209.51M839.48,1237.36 L840.11,1237.68 L841.15,1238.20 L842.20,1238.73 L843.25,1239.26 L844.30,1239.78 L845.34,1240.30 L846.05,1240.65M899.61,1265.50 L899.78,1265.57 L900.83,1266.02 L901.87,1266.47 L902.92,1266.92 L903.97,1267.37 L905.01,1267.81 L906.06,1268.26 L906.40,1268.40M961.63,1290.00 L962.59,1290.35 L963.64,1290.72 L964.69,1291.09 L965.73,1291.47 L966.78,1291.84 L967.83,1292.21 L968.61,1292.49M1025.24,1310.84 L1025.40,1310.88 L1026.45,1311.19 L1027.50,1311.50 L1028.54,1311.81 L1029.59,1312.12 L1030.64,1312.42 L1031.69,1312.73 L1032.38,1312.93M1090.07,1328.28 L1090.31,1328.34 L1091.36,1328.59 L1092.40,1328.85 L1093.45,1329.10 L1094.50,1329.35 L1095.54,1329.60 L1096.59,1329.85 L1097.32,1330.03M1155.77,1342.76 L1156.26,1342.86 L1157.31,1343.06 L1158.36,1343.27 L1159.40,1343.48 L1160.45,1343.68 L1161.50,1343.89 L1162.54,1344.09 L1163.10,1344.20M1222.11,1354.59 L1222.22,1354.61 L1223.26,1354.77 L1224.31,1354.94 L1225.36,1355.11 L1226.40,1355.27 L1227.45,1355.43 L1228.50,1355.60 L1229.50,1355.75M1288.90,1364.08 L1289.22,1364.12 L1290.26,1364.26 L1291.31,1364.39 L1292.36,1364.52 L1293.40,1364.65 L1294.45,1364.78 L1295.50,1364.90 L1296.33,1365.01M1356.00,1371.54 L1356.22,1371.56 L1357.26,1371.66 L1358.31,1371.76 L1359.36,1371.87 L1360.40,1371.97 L1361.45,1372.07 L1362.50,1372.16 L1363.46,1372.26M1423.31,1377.23 L1424.26,1377.30 L1425.31,1377.37 L1426.36,1377.45 L1427.40,1377.52 L1428.45,1377.60 L1429.50,1377.67 L1430.54,1377.74 L1430.79,1377.76M1490.76,1381.37 L1491.26,1381.40 L1492.31,1381.45 L1493.36,1381.50 L1494.40,1381.55 L1495.45,1381.61 L1496.50,1381.66 L1497.54,1381.71 L1498.24,1381.74" fill="none" stroke="#1A6FDF" stroke-width="10" stroke-linecap="round" stroke-linejoin="round"/>
<path d="M273.75,1014.54 L274.80,1014.88 L275.84,1015.22 L276.89,1015.56 L277.94,1015.90 L278.98,1016.24 L280.03,1016.58 L281.08,1016.93 L282.12,1017.27 L283.17,1017.61 L284.22,1017.95 L285.27,1018.30 L286.31,1018.64 L287.36,1018.98 L288.41,1019.33 L289.45,1019.67 L290.50,1020.01 L291.55,1020.36 L292.59,1020.70 L293.64,1021.05 L294.69,1021.39 L295.73,1021.74 L296.78,1022.08 L297.83,1022.43 L298.87,1022.77 L299.92,1023.12 L300.97,1023.46 L302.02,1023.81 L303.06,1024.16 L304.11,1024.50 L305.16,1024.85 L306.20,1025.20 L307.25,1025.54 L308.30,1025.89 L309.34,1026.24 L310.39,1026.59 L311.44,1026.93 L312.48,1027.28 L313.53,1027.63 L314.58,1027.98 L315.62,1028.33 L316.67,1028.68 L317.72,1029.03 L318.77,1029.38 L319.81,1029.72 L320.86,1030.07 L321.91,1030.42 L322.95,1030.77 L324.00,1031.12 L325.05,1031.48 L326.09,1031.83 L327.14,1032.18 L328.19,1032.53 L328.84,1032.75M364.08,1044.70 L364.83,1044.95 L365.87,1045.31 L366.92,1045.67 L367.97,1046.03 L369.02,1046.39 L370.06,1046.75 L371.11,1047.11 L371.48,1047.24M406.52,1059.42 L406.70,1059.48 L407.75,1059.85 L408.80,1060.22 L409.84,1060.59 L410.89,1060.96 L411.94,1061.33 L412.98,1061.70 L414.03,1062.06 L415.08,1062.43 L416.12,1062.80 L417.17,1063.17 L418.22,1063.54 L419.27,1063.91 L420.31,1064.29 L421.36,1064.66 L422.41,1065.03 L423.45,1065.40 L424.50,1065.77 L425.55,1066.14 L426.59,1066.52 L427.64,1066.89 L428.69,1067.26 L429.73,1067.63 L430.78,1068.01 L431.83,1068.38 L432.87,1068.75 L433.92,1069.13 L434.97,1069.50 L436.02,1069.88 L437.06,1070.25 L438.11,1070.63 L439.16,1071.00 L440.20,1071.38 L441.25,1071.75 L442.30,1072.13 L443.34,1072.50 L444.39,1072.88 L445.44,1073.26 L446.48,1073.63 L447.53,1074.01 L448.58,1074.39 L449.62,1074.76 L450.67,1075.14 L451.72,1075.52 L452.77,1075.90 L453.81,1076.28 L454.86,1076.66 L455.91,1077.03 L456.95,1077.41 L458.00,1077.79 L459.05,1078.17 L460.09,1078.55 L461.08,1078.91M495.96,1091.72 L496.73,1092.01 L497.78,1092.40 L498.83,1092.79 L499.87,1093.18 L500.92,1093.57 L501.97,1093.96 L503.02,1094.35 L503.27,1094.45M537.92,1107.52 L538.61,1107.78 L539.66,1108.18 L540.70,1108.58 L541.75,1108.98 L542.80,1109.38 L543.84,1109.79 L544.89,1110.19 L545.94,1110.59 L546.98,1110.99 L548.03,1111.39 L549.08,1111.79 L550.12,1112.20 L551.17,1112.60 L552.22,1113.00 L553.26,1113.41 L554.31,1113.81 L555.36,1114.21 L556.41,1114.62 L557.45,1115.02 L558.50,1115.43 L559.55,1115.83 L560.59,1116.24 L561.64,1116.64 L562.69,1117.05 L563.73,1117.46 L564.78,1117.86 L565.83,1118.27 L566.87,1118.68 L567.92,1119.08 L568.97,1119.49 L570.01,1119.90 L571.06,1120.31 L572.11,1120.72 L573.16,1121.12 L574.20,1121.53 L575.25,1121.94 L576.30,1122.35 L577.34,1122.76 L578.39,1123.17 L579.44,1123.58 L580.48,1123.99 L581.53,1124.40 L582.58,1124.82 L583.62,1125.23 L584.67,1125.64 L585.72,1126.05 L586.76,1126.46 L587.81,1126.88 L588.86,1127.29 L589.91,1127.70 L590.95,1128.12 L591.84,1128.47M626.27,1142.24 L626.55,1142.35 L627.59,1142.78 L628.64,1143.20 L629.69,1143.63 L630.73,1144.05 L631.78,1144.48 L632.83,1144.90 L633.49,1145.17M667.67,1159.23 L668.42,1159.55 L669.47,1159.98 L670.51,1160.42 L671.56,1160.86 L672.61,1161.29 L673.66,1161.73 L674.70,1162.17 L675.75,1162.61 L676.80,1163.05 L677.84,1163.48 L678.89,1163.92 L679.94,1164.36 L680.98,1164.80 L682.03,1165.24 L683.08,1165.68 L684.12,1166.12 L685.17,1166.56 L686.22,1167.01 L687.26,1167.45 L688.31,1167.89 L689.36,1168.33 L690.41,1168.77 L691.45,1169.22 L692.50,1169.66 L693.55,1170.10 L694.59,1170.55 L695.64,1170.99 L696.69,1171.44 L697.73,1171.88 L698.78,1172.33 L699.83,1172.77 L700.87,1173.22 L701.92,1173.66 L702.97,1174.11 L704.01,1174.56 L705.06,1175.00 L706.11,1175.45 L707.16,1175.90 L708.20,1176.35 L709.25,1176.79 L710.30,1177.24 L711.34,1177.69 L712.39,1178.14 L713.44,1178.59 L714.48,1179.04 L715.53,1179.49 L716.58,1179.94 L717.62,1180.39 L718.67,1180.84 L719.72,1181.30 L720.76,1181.75 L720.80,1181.76M754.71,1196.60 L755.31,1196.86 L756.36,1197.33 L757.41,1197.79 L758.45,1198.26 L759.50,1198.73 L760.55,1199.19 L761.59,1199.66 L761.81,1199.75M795.40,1214.94 L796.14,1215.28 L797.19,1215.76 L798.23,1216.24 L799.28,1216.72 L800.33,1217.21 L801.37,1217.69 L802.42,1218.17 L803.47,1218.65 L804.51,1219.14 L805.56,1219.62 L806.61,1220.11 L807.65,1220.59 L808.70,1221.08 L809.75,1221.56 L810.80,1222.05 L811.84,1222.54 L812.89,1223.03 L813.94,1223.51 L814.98,1224.00 L816.03,1224.49 L817.08,1224.98 L818.12,1225.47 L819.17,1225.96 L820.22,1226.45 L821.26,1226.94 L822.31,1227.43 L823.36,1227.93 L824.40,1228.42 L825.45,1228.91 L826.50,1229.41 L827.55,1229.90 L828.59,1230.39 L829.64,1230.89 L830.69,1231.38 L831.73,1231.88 L832.78,1232.38 L833.83,1232.87 L834.87,1233.37 L835.92,1233.87 L836.97,1234.37 L838.01,1234.87 L839.06,1235.37 L840.11,1235.87 L841.15,1236.37 L842.20,1236.87 L843.25,1237.37 L844.30,1237.87 L845.34,1238.37 L846.39,1238.88 L847.44,1239.38 L847.50,1239.41M880.64,1255.62 L880.94,1255.77 L881.98,1256.29 L883.03,1256.81 L884.08,1257.33 L885.12,1257.86 L886.17,1258.38 L887.22,1258.90 L887.57,1259.08M920.47,1275.47 L920.72,1275.59 L921.76,1276.10 L922.81,1276.60 L923.86,1277.10 L924.90,1277.60 L925.95,1278.10 L927.00,1278.60 L928.05,1279.09 L929.09,1279.58 L930.14,1280.07 L931.19,1280.56 L932.23,1281.04 L933.28,1281.52 L934.33,1282.00 L935.37,1282.48 L936.42,1282.95 L937.47,1283.42 L938.51,1283.89 L939.56,1284.36 L940.61,1284.82 L941.65,1285.28 L942.70,1285.73 L943.75,1286.18 L944.80,1286.63 L945.84,1287.08 L946.89,1287.52 L947.94,1287.96 L948.98,1288.39 L950.03,1288.82 L951.08,1289.25 L952.12,1289.68 L953.17,1290.09 L954.22,1290.51 L955.26,1290.92 L956.31,1291.33 L957.36,1291.73 L958.40,1292.13 L959.45,1292.52 L960.50,1292.91 L961.55,1293.30 L962.59,1293.68 L963.64,1294.06 L964.69,1294.43 L965.73,1294.79 L966.78,1295.15 L967.83,1295.51 L968.87,1295.86 L969.92,1296.21 L970.97,1296.55 L972.01,1296.89 L973.06,1297.22 L973.82,1297.45M1010.43,1304.95 L1010.75,1304.98 L1011.80,1305.07 L1012.84,1305.15 L1013.89,1305.23 L1014.94,1305.29 L1015.98,1305.35 L1017.03,1305.41 L1018.08,1305.45 L1018.31,1305.46M1055.50,1302.10 L1055.76,1302.04 L1056.81,1301.80 L1057.86,1301.55 L1058.90,1301.30 L1059.95,1301.03 L1061.00,1300.76 L1062.04,1300.48 L1063.09,1300.19 L1064.14,1299.89 L1065.19,1299.59 L1066.23,1299.28 L1067.28,1298.96 L1068.33,1298.64 L1069.37,1298.31 L1070.42,1297.97 L1071.47,1297.63 L1072.51,1297.28 L1073.56,1296.92 L1074.61,1296.56 L1075.65,1296.20 L1076.70,1295.83 L1077.75,1295.45 L1078.79,1295.07 L1079.84,1294.69 L1080.89,1294.30 L1081.94,1293.91 L1082.98,1293.51 L1084.03,1293.11 L1085.08,1292.71 L1086.12,1292.30 L1087.17,1291.89 L1088.22,1291.48 L1089.26,1291.07 L1090.31,1290.65 L1091.36,1290.23 L1092.40,1289.81 L1093.45,1289.39 L1094.50,1288.96 L1095.54,1288.54 L1096.59,1288.11 L1097.64,1287.68 L1098.69,1287.24 L1099.73,1286.81 L1100.78,1286.37 L1101.83,1285.94 L1102.87,1285.50 L1103.92,1285.06 L1104.97,1284.61 L1106.01,1284.17 L1107.06,1283.72 L1108.11,1283.27 L1109.15,1282.82 L1109.91,1282.50M1143.58,1267.24 L1143.70,1267.18 L1144.75,1266.69 L1145.79,1266.19 L1146.84,1265.69 L1147.89,1265.19 L1148.94,1264.70 L1149.98,1264.20 L1150.59,1263.91M1183.63,1247.74 L1184.53,1247.29 L1185.58,1246.77 L1186.62,1246.25 L1187.67,1245.73 L1188.72,1245.20 L1189.76,1244.68 L1190.81,1244.16 L1191.86,1243.64 L1192.90,1243.11 L1193.95,1242.59 L1195.00,1242.07 L1196.04,1241.54 L1197.09,1241.02 L1198.14,1240.50 L1199.19,1239.97 L1200.23,1239.45 L1201.28,1238.92 L1202.33,1238.40 L1203.37,1237.88 L1204.42,1237.35 L1205.47,1236.83 L1206.51,1236.30 L1207.56,1235.78 L1208.61,1235.26 L1209.65,1234.73 L1210.70,1234.21 L1211.75,1233.68 L1212.79,1233.16 L1213.84,1232.64 L1214.89,1232.11 L1215.94,1231.59 L1216.98,1231.07 L1218.03,1230.55 L1219.08,1230.02 L1220.12,1229.50 L1221.17,1228.98 L1222.22,1228.46 L1223.26,1227.94 L1224.31,1227.42 L1225.36,1226.90 L1226.40,1226.38 L1227.45,1225.86 L1228.50,1225.34 L1229.54,1224.82 L1230.59,1224.30 L1231.64,1223.78 L1232.69,1223.26 L1233.73,1222.75 L1234.78,1222.23 L1235.05,1222.10M1268.29,1206.08 L1269.33,1205.59 L1270.37,1205.11 L1271.42,1204.62 L1272.47,1204.13 L1273.51,1203.65 L1274.56,1203.16 L1275.33,1202.81M1309.04,1187.84 L1309.11,1187.81 L1310.15,1187.36 L1311.20,1186.92 L1312.25,1186.47 L1313.29,1186.02 L1314.34,1185.58 L1315.39,1185.13 L1316.43,1184.69 L1317.48,1184.25 L1318.53,1183.81 L1319.58,1183.37 L1320.62,1182.92 L1321.67,1182.49 L1322.72,1182.05 L1323.76,1181.61 L1324.81,1181.17 L1325.86,1180.73 L1326.90,1180.30 L1327.95,1179.86 L1329.00,1179.43 L1330.04,1179.00 L1331.09,1178.56 L1332.14,1178.13 L1333.18,1177.70 L1334.23,1177.27 L1335.28,1176.84 L1336.33,1176.41 L1337.37,1175.98 L1338.42,1175.55 L1339.47,1175.12 L1340.51,1174.70 L1341.56,1174.27 L1342.61,1173.84 L1343.65,1173.42 L1344.70,1173.00 L1345.75,1172.57 L1346.79,1172.15 L1347.84,1171.72 L1348.89,1171.30 L1349.93,1170.88 L1350.98,1170.46 L1352.03,1170.04 L1353.08,1169.62 L1354.12,1169.20 L1355.17,1168.78 L1356.22,1168.36 L1357.26,1167.94 L1358.31,1167.52 L1359.36,1167.11 L1360.40,1166.69 L1361.45,1166.27 L1362.46,1165.87M1397.00,1152.32 L1397.04,1152.30 L1398.09,1151.90 L1399.14,1151.49 L1400.18,1151.08 L1401.23,1150.68 L1402.28,1150.27 L1403.33,1149.86 L1404.27,1149.50M1438.77,1136.08 L1438.92,1136.02 L1439.97,1135.61 L1441.01,1135.20 L1442.06,1134.79 L1443.11,1134.38 L1444.15,1133.97 L1445.20,1133.56 L1446.25,1133.15 L1447.29,1132.74 L1448.34,1132.33 L1449.39,1131.91 L1450.43,1131.50 L1451.48,1131.09 L1452.53,1130.68 L1453.58,1130.26 L1454.62,1129.85 L1455.67,1129.43 L1456.72,1129.02 L1457.76,1128.60 L1458.81,1128.19 L1459.86,1127.77 L1460.90,1127.36 L1461.95,1126.94 L1463.00,1126.52 L1464.04,1126.11 L1465.09,1125.69 L1466.14,1125.27 L1467.18,1124.85 L1468.23,1124.43 L1469.28,1124.01 L1470.33,1123.59 L1471.37,1123.17 L1472.42,1122.75 L1473.47,1122.32 L1474.51,1121.90 L1475.56,1121.48 L1476.61,1121.06 L1477.65,1120.63 L1478.70,1120.21 L1479.75,1119.78 L1480.79,1119.35 L1481.84,1118.93 L1482.89,1118.50 L1483.93,1118.07 L1484.98,1117.64 L1486.03,1117.22 L1487.08,1116.79 L1488.12,1116.36 L1489.17,1115.92 L1490.22,1115.49 L1491.26,1115.06 L1492.31,1114.63 L1492.41,1114.58M1526.47,1100.05 L1526.86,1099.88 L1527.90,1099.42 L1528.95,1098.96" fill="none" stroke="#37AD6B" stroke-width="10" stroke-linecap="round" stroke-linejoin="round"/>
<path d="M273.99,179.12 L274.80,182.93 L275.84,187.86 L276.89,192.77 L277.94,197.65 L278.98,202.52 L280.03,207.37 L281.08,212.19 L282.02,216.50M289.39,249.77 L289.45,250.06 L290.50,254.70 L290.96,256.75M298.54,289.71 L298.87,291.13 L299.92,295.60 L300.18,296.68M308.10,329.82 L308.30,330.64 L309.34,334.94 L310.39,339.22 L311.44,343.48 L312.48,347.72 L313.53,351.94 L314.58,356.14 L315.62,360.33 L316.67,364.50 L317.30,366.98M325.79,400.03 L326.09,401.21 L327.14,405.20 L327.60,406.96M336.38,439.67 L336.56,440.35 L337.61,444.18 L338.27,446.59M347.49,479.45 L348.08,481.50 L349.12,485.14 L350.17,488.77 L351.22,492.39 L352.27,495.98 L353.31,499.56 L354.36,503.13 L355.41,506.68 L356.45,510.22 L357.50,513.74 L358.25,516.26M368.23,548.96 L369.02,551.47 L370.06,554.82 L370.38,555.81M380.75,588.13 L381.58,590.65 L382.62,593.83 L383.00,594.96M393.97,627.37 L394.14,627.86 L395.19,630.88 L396.23,633.88 L397.28,636.87 L398.33,639.85 L399.37,642.81 L400.42,645.77 L401.47,648.71 L402.52,651.63 L403.56,654.55 L404.61,657.45 L405.66,660.34 L406.70,663.22 L406.85,663.61M418.85,695.74 L419.27,696.83 L420.31,699.56 L421.36,702.27 L421.43,702.47M433.98,734.13 L434.97,736.56 L436.02,739.12 L436.71,740.81M450.04,772.48 L450.67,773.94 L451.72,776.35 L452.77,778.76 L453.81,781.15 L454.86,783.54 L455.91,785.92 L456.95,788.28 L458.00,790.64 L459.05,792.99 L460.09,795.33 L461.14,797.66 L462.19,799.98 L463.23,802.30 L464.28,804.60 L465.33,806.90 L465.73,807.79M480.39,838.98 L481.03,840.31 L482.08,842.47 L483.12,844.62 L483.55,845.50M498.93,876.12 L499.87,877.94 L500.92,879.96 L501.97,881.96 L502.28,882.56M518.71,912.99 L518.72,913.00 L519.77,914.88 L520.81,916.74 L521.86,918.60 L522.91,920.46 L523.95,922.30 L525.00,924.14 L526.05,925.97 L527.09,927.79 L528.14,929.60 L529.19,931.41 L530.23,933.21 L531.28,935.00 L532.33,936.79 L533.37,938.57 L534.42,940.34 L535.47,942.10 L536.51,943.86 L537.56,945.60 L538.21,946.68M556.61,976.18 L557.45,977.48 L558.50,979.09 L559.55,980.69 L560.59,982.29 L560.61,982.31M580.16,1010.87 L580.48,1011.33 L581.53,1012.79 L582.58,1014.25 L583.62,1015.70 L584.45,1016.83M605.60,1044.73 L605.61,1044.75 L606.66,1046.06 L607.70,1047.38 L608.75,1048.68 L609.80,1049.98 L610.84,1051.28 L611.89,1052.57 L612.94,1053.85 L613.98,1055.13 L615.03,1056.40 L616.08,1057.67 L617.12,1058.93 L618.17,1060.18 L619.22,1061.43 L620.26,1062.67 L621.31,1063.91 L622.36,1065.15 L623.41,1066.37 L624.45,1067.60 L625.50,1068.81 L626.55,1070.02 L627.59,1071.23 L628.64,1072.43 L629.69,1073.63 L630.73,1074.82 L630.92,1075.02M654.95,1100.93 L655.86,1101.86 L656.91,1102.92 L657.95,1103.98 L659.00,1105.04 L660.05,1106.09 L660.18,1106.23M685.73,1130.53 L686.22,1130.97 L687.26,1131.91 L688.31,1132.85 L689.36,1133.78 L690.41,1134.71 L691.32,1135.52M718.69,1158.48 L719.72,1159.30 L720.76,1160.13 L721.81,1160.96 L722.86,1161.78 L723.91,1162.60 L724.95,1163.42 L726.00,1164.24 L727.05,1165.05 L728.09,1165.86 L729.14,1166.67 L730.19,1167.47 L731.23,1168.27 L732.28,1169.07 L733.33,1169.87 L734.37,1170.66 L735.42,1171.45 L736.47,1172.24 L737.51,1173.03 L738.56,1173.81 L739.61,1174.59 L740.66,1175.37 L741.70,1176.14 L742.75,1176.91 L743.80,1177.68 L744.84,1178.45M744.84,1178.45 L745.89,1179.22 L746.94,1179.98 L747.98,1180.74 L749.03,1181.50 L750.08,1182.25 L751.12,1183.00 L752.17,1183.75 L753.22,1184.50 L754.26,1185.25 L755.31,1185.99 L755.60,1186.19M786.15,1206.74 L786.72,1207.10 L787.76,1207.77 L788.81,1208.43 L789.86,1209.09 L790.90,1209.75 L791.95,1210.41 L792.71,1210.88M824.31,1229.58 L824.40,1229.63 L825.45,1230.22 L826.50,1230.80 L827.55,1231.38 L828.59,1231.96 L829.64,1232.53 L830.69,1233.10 L831.13,1233.35M864.17,1250.37 L864.19,1250.38 L865.23,1250.89 L866.28,1251.39 L867.33,1251.90 L868.37,1252.40 L869.42,1252.90 L870.47,1253.40 L871.51,1253.89 L872.56,1254.39 L873.61,1254.88 L874.65,1255.37 L875.70,1255.86 L876.75,1256.34 L877.80,1256.83 L878.84,1257.31 L879.89,1257.80 L880.94,1258.28 L881.98,1258.75 L883.03,1259.23 L884.08,1259.70 L885.12,1260.18 L886.17,1260.65 L887.22,1261.12 L888.26,1261.59 L889.31,1262.05 L890.36,1262.52 L891.40,1262.98 L892.45,1263.44 L893.50,1263.90 L894.55,1264.36 L895.59,1264.81 L896.64,1265.27 L897.69,1265.72 L898.73,1266.17 L899.78,1266.62 L900.83,1267.07 L901.87,1267.51 L902.31,1267.70M937.09,1281.58 L937.47,1281.73 L938.51,1282.12 L939.56,1282.51 L940.61,1282.89 L941.65,1283.28 L942.70,1283.66 L943.75,1284.05 L944.48,1284.32M979.76,1296.35 L980.39,1296.55 L981.44,1296.89 L982.48,1297.22 L983.53,1297.55 L984.58,1297.87 L985.62,1298.20 L986.67,1298.53 L987.30,1298.72M1023.47,1309.18 L1024.36,1309.42 L1025.40,1309.70 L1026.45,1309.98 L1027.50,1310.26 L1028.54,1310.54 L1029.59,1310.81 L1030.64,1311.09 L1031.69,1311.36 L1032.73,1311.64 L1033.78,1311.91 L1034.83,1312.18 L1035.87,1312.45 L1036.92,1312.72 L1037.97,1312.98 L1039.01,1313.25 L1040.06,1313.51 L1041.11,1313.78 L1042.15,1314.04 L1043.20,1314.30 L1044.25,1314.57 L1045.29,1314.83 L1046.34,1315.08 L1047.39,1315.34 L1048.44,1315.60 L1049.48,1315.85 L1050.53,1316.11 L1051.58,1316.36 L1052.62,1316.62 L1053.67,1316.87 L1054.72,1317.12 L1055.76,1317.37 L1056.81,1317.62 L1057.86,1317.87 L1058.90,1318.11 L1059.95,1318.36 L1061.00,1318.60 L1062.04,1318.85 L1063.09,1319.09 L1064.14,1319.33 L1064.58,1319.43M1101.53,1327.40 L1101.83,1327.46 L1102.87,1327.67 L1103.92,1327.88 L1104.97,1328.09 L1106.01,1328.30 L1107.06,1328.50 L1108.11,1328.71 L1109.15,1328.92 L1109.32,1328.95M1146.24,1335.78 L1146.84,1335.89 L1147.89,1336.07 L1148.94,1336.25 L1149.98,1336.43 L1151.03,1336.61 L1152.08,1336.79 L1153.12,1336.97 L1154.08,1337.14M1191.43,1343.24 L1191.86,1343.31 L1192.90,1343.47 L1193.95,1343.63 L1195.00,1343.80 L1196.04,1343.96 L1197.09,1344.12 L1198.14,1344.28 L1199.19,1344.44 L1200.23,1344.60 L1201.28,1344.77 L1202.33,1344.93 L1203.37,1345.09 L1204.42,1345.24 L1205.47,1345.40 L1206.51,1345.56 L1207.56,1345.72 L1208.61,1345.88 L1209.65,1346.04 L1210.70,1346.19 L1211.75,1346.35 L1212.79,1346.51 L1213.84,1346.66 L1214.89,1346.82 L1215.94,1346.97 L1216.98,1347.13 L1218.03,1347.28 L1219.08,1347.44 L1220.12,1347.59 L1221.17,1347.74 L1222.22,1347.90 L1223.26,1348.05 L1224.31,1348.20 L1225.36,1348.35 L1226.40,1348.51 L1227.45,1348.66 L1228.50,1348.81 L1229.54,1348.96 L1230.59,1349.11 L1231.64,1349.26 L1232.69,1349.41 L1233.49,1349.52M1271.05,1354.61 L1271.42,1354.65 L1272.47,1354.79 L1273.51,1354.92 L1274.56,1355.06 L1275.61,1355.19 L1276.65,1355.32 L1277.70,1355.45 L1278.75,1355.59 L1278.95,1355.61M1316.30,1360.05 L1316.43,1360.06 L1317.48,1360.18 L1318.53,1360.30 L1319.58,1360.41 L1320.62,1360.53 L1321.67,1360.64 L1322.72,1360.76 L1323.76,1360.87 L1324.22,1360.92M1361.94,1364.74 L1362.50,1364.79 L1363.54,1364.89 L1364.59,1364.98 L1365.64,1365.08 L1366.68,1365.17 L1367.73,1365.27 L1368.78,1365.36 L1369.83,1365.46 L1370.87,1365.55 L1371.92,1365.65 L1372.97,1365.74 L1374.01,1365.83 L1375.06,1365.93 L1376.11,1366.02 L1377.15,1366.11 L1378.20,1366.20 L1379.25,1366.29 L1380.29,1366.38 L1381.34,1366.47 L1382.39,1366.56 L1383.43,1366.65 L1384.48,1366.74 L1385.53,1366.82 L1386.58,1366.91 L1387.62,1367.00 L1388.67,1367.08 L1389.72,1367.17 L1390.76,1367.25 L1391.81,1367.34 L1392.86,1367.42 L1393.90,1367.51 L1394.95,1367.59 L1396.00,1367.67 L1397.04,1367.75 L1398.09,1367.84 L1399.14,1367.92 L1400.18,1368.00 L1401.23,1368.08 L1402.28,1368.16 L1403.33,1368.24 L1404.37,1368.32M1442.24,1370.83 L1443.11,1370.88 L1444.15,1370.94 L1445.20,1371.00 L1446.25,1371.06 L1447.29,1371.12 L1448.34,1371.17 L1449.39,1371.23 L1450.20,1371.27M1487.83,1372.93 L1488.12,1372.94 L1489.17,1372.98 L1490.22,1373.01 L1491.26,1373.05 L1492.31,1373.08 L1493.36,1373.12 L1494.40,1373.15 L1495.45,1373.18 L1495.80,1373.19" fill="none" stroke="#B177DE" stroke-width="10" stroke-linecap="round" stroke-linejoin="round"/>
<path d="M964.0,1184.0 C970.5,1187.0 982.2,1190.4 989.3,1193.3 C996.4,1196.2 1000.8,1198.2 1006.6,1201.3 C1012.4,1204.4 1017.0,1207.7 1023.9,1211.9 C1030.8,1216.1 1041.2,1221.9 1047.9,1226.6 C1054.6,1231.3 1058.6,1235.5 1063.9,1239.9 C1069.2,1244.3 1074.9,1248.8 1079.8,1253.2 C1084.7,1257.6 1089.2,1262.1 1093.2,1266.5 C1097.2,1270.9 1100.8,1275.3 1103.8,1279.8 C1106.8,1284.2 1109.7,1288.2 1111.5,1293.2 C1113.3,1298.2 1114.5,1304.5 1114.8,1310.0 C1115.1,1315.5 1115.0,1321.3 1113.5,1326.0 C1112.0,1330.7 1108.9,1335.1 1106.0,1338.4 C1103.1,1341.7 1099.8,1344.0 1096.0,1346.0 C1092.2,1348.0 1087.7,1349.2 1083.0,1350.5 C1078.3,1351.8 1075.2,1352.4 1068.0,1353.5 C1060.8,1354.6 1048.0,1356.3 1040.0,1357.1 C1032.0,1357.9 1028.8,1358.9 1019.9,1358.4 C1011.0,1358.0 995.9,1355.7 986.6,1354.4 C977.3,1353.1 970.9,1351.9 964.0,1350.4 C957.1,1349.0 954.2,1348.2 945.0,1345.7 C935.8,1343.2 920.8,1339.1 908.6,1335.6 C896.5,1332.1 882.7,1328.6 872.1,1324.7 C861.5,1320.8 853.9,1316.2 844.8,1312.0 C835.7,1307.8 826.3,1303.8 817.5,1299.2 C808.7,1294.6 800.5,1289.6 792.0,1284.6 C783.5,1279.6 774.4,1274.3 766.5,1269.2 C758.6,1264.1 751.4,1259.1 744.6,1253.7 C737.9,1248.3 730.8,1242.0 726.0,1237.0 C721.2,1232.0 719.0,1228.4 716.0,1224.0 C713.0,1219.6 709.8,1214.8 708.0,1210.5 C706.2,1206.2 705.5,1202.4 705.0,1198.0 C704.5,1193.6 704.2,1189.2 705.0,1184.0 C705.8,1178.8 706.9,1172.2 709.5,1167.0 C712.1,1161.8 715.4,1156.7 720.6,1153.0 C725.9,1149.3 733.4,1146.7 741.0,1145.0 C748.6,1143.3 758.0,1143.2 766.5,1142.8 C775.0,1142.4 782.1,1142.5 792.0,1142.6 C801.9,1142.7 814.7,1142.4 826.0,1143.6 C837.3,1144.8 848.6,1147.2 860.0,1149.6 C871.4,1152.0 882.8,1155.1 894.1,1158.1 C905.5,1161.1 918.8,1164.5 928.1,1167.4 C937.4,1170.3 944.0,1172.7 950.0,1175.5 C956.0,1178.3 957.5,1181.0 964.0,1184.0Z" fill="url(#pw)" stroke="url(#pr)" stroke-width="7"/>
<polygon points="960.6,1017.7 947.6,1067.4 974.8,1067.4" fill="#f00"/>
<polygon points="957.9,1066 964.9,1066 965.5,1183.2 958.6,1183.2" fill="#f00"/>
<rect x="206" y="81.3" width="10" height="1319.7" fill="#000"/>
<rect x="206" y="1391" width="1391" height="10" fill="#000"/>
<rect x="216" y="1391.00" width="11" height="10" fill="#000"/>
<rect x="216" y="1271.94" width="11" height="10" fill="#000"/>
<rect x="216" y="1152.88" width="11" height="10" fill="#000"/>
<rect x="216" y="1033.82" width="11" height="10" fill="#000"/>
<rect x="216" y="914.76" width="11" height="10" fill="#000"/>
<rect x="216" y="795.70" width="11" height="10" fill="#000"/>
<rect x="216" y="676.64" width="11" height="10" fill="#000"/>
<rect x="216" y="557.58" width="11" height="10" fill="#000"/>
<rect x="216" y="438.52" width="11" height="10" fill="#000"/>
<rect x="216" y="319.46" width="11" height="10" fill="#000"/>
<rect x="216" y="200.40" width="11" height="10" fill="#000"/>
<rect x="216" y="81.34" width="11" height="10" fill="#000"/>
<rect x="216" y="1331.47" width="2.6" height="10" fill="#000"/>
<rect x="216" y="1212.41" width="2.6" height="10" fill="#000"/>
<rect x="216" y="1093.35" width="2.6" height="10" fill="#000"/>
<rect x="216" y="974.29" width="2.6" height="10" fill="#000"/>
<rect x="216" y="855.23" width="2.6" height="10" fill="#000"/>
<rect x="216" y="736.17" width="2.6" height="10" fill="#000"/>
<rect x="216" y="617.11" width="2.6" height="10" fill="#000"/>
<rect x="216" y="498.05" width="2.6" height="10" fill="#000"/>
<rect x="216" y="378.99" width="2.6" height="10" fill="#000"/>
<rect x="216" y="259.93" width="2.6" height="10" fill="#000"/>
<rect x="216" y="140.87" width="2.6" height="10" fill="#000"/>
<rect x="268.75" y="1382" width="10" height="9" fill="#000"/>
<rect x="394.27" y="1382" width="10" height="9" fill="#000"/>
<rect x="519.79" y="1382" width="10" height="9" fill="#000"/>
<rect x="645.31" y="1382" width="10" height="9" fill="#000"/>
<rect x="770.83" y="1382" width="10" height="9" fill="#000"/>
<rect x="896.35" y="1382" width="10" height="9" fill="#000"/>
<rect x="1021.87" y="1382" width="10" height="9" fill="#000"/>
<rect x="1147.39" y="1382" width="10" height="9" fill="#000"/>
<rect x="1272.91" y="1382" width="10" height="9" fill="#000"/>
<rect x="1398.43" y="1382" width="10" height="9" fill="#000"/>
<rect x="1523.95" y="1382" width="10" height="9" fill="#000"/>
<rect x="331.51" y="1388.5" width="10" height="2.5" fill="#000"/>
<rect x="457.03" y="1388.5" width="10" height="2.5" fill="#000"/>
<rect x="582.55" y="1388.5" width="10" height="2.5" fill="#000"/>
<rect x="708.07" y="1388.5" width="10" height="2.5" fill="#000"/>
<rect x="833.59" y="1388.5" width="10" height="2.5" fill="#000"/>
<rect x="959.11" y="1388.5" width="10" height="2.5" fill="#000"/>
<rect x="1084.63" y="1388.5" width="10" height="2.5" fill="#000"/>
<rect x="1210.15" y="1388.5" width="10" height="2.5" fill="#000"/>
<rect x="1335.67" y="1388.5" width="10" height="2.5" fill="#000"/>
<rect x="1461.19" y="1388.5" width="10" height="2.5" fill="#000"/>
<rect x="1586.71" y="1388.5" width="10" height="2.5" fill="#000"/>
<text transform="translate(194 1410.40) scale(1.1 1)" text-anchor="end" font-size="60" font-weight="bold">0</text>
<text transform="translate(194 1291.34) scale(1.1 1)" text-anchor="end" font-size="60" font-weight="bold">5</text>
<text transform="translate(194 1172.28) scale(1.1 1)" text-anchor="end" font-size="60" font-weight="bold">10</text>
<text transform="translate(194 1053.22) scale(1.1 1)" text-anchor="end" font-size="60" font-weight="bold">15</text>
<text transform="translate(194 934.16) scale(1.1 1)" text-anchor="end" font-size="60" font-weight="bold">20</text>
<text transform="translate(194 815.10) scale(1.1 1)" text-anchor="end" font-size="60" font-weight="bold">25</text>
<text transform="translate(194 696.04) scale(1.1 1)" text-anchor="end" font-size="60" font-weight="bold">30</text>
<text transform="translate(194 576.98) scale(1.1 1)" text-anchor="end" font-size="60" font-weight="bold">35</text>
<text transform="translate(194 457.92) scale(1.1 1)" text-anchor="end" font-size="60" font-weight="bold">40</text>
<text transform="translate(194 338.86) scale(1.1 1)" text-anchor="end" font-size="60" font-weight="bold">45</text>
<text transform="translate(194 219.80) scale(1.1 1)" text-anchor="end" font-size="60" font-weight="bold">50</text>
<text transform="translate(194 100.74) scale(1.1 1)" text-anchor="end" font-size="60" font-weight="bold">55</text>
<text transform="translate(272.25 1454) scale(1.1 1)" text-anchor="middle" font-size="60" font-weight="bold"><tspan stroke="#000" stroke-width="2" dy="2">−</tspan><tspan dy="-2" dx="-3">10</tspan></text>
<text transform="translate(397.77 1454) scale(1.1 1)" text-anchor="middle" font-size="60" font-weight="bold"><tspan stroke="#000" stroke-width="2" dy="2">−</tspan><tspan dy="-2" dx="-3">8</tspan></text>
<text transform="translate(523.29 1454) scale(1.1 1)" text-anchor="middle" font-size="60" font-weight="bold"><tspan stroke="#000" stroke-width="2" dy="2">−</tspan><tspan dy="-2" dx="-3">6</tspan></text>
<text transform="translate(648.81 1454) scale(1.1 1)" text-anchor="middle" font-size="60" font-weight="bold"><tspan stroke="#000" stroke-width="2" dy="2">−</tspan><tspan dy="-2" dx="-3">4</tspan></text>
<text transform="translate(774.33 1454) scale(1.1 1)" text-anchor="middle" font-size="60" font-weight="bold"><tspan stroke="#000" stroke-width="2" dy="2">−</tspan><tspan dy="-2" dx="-3">2</tspan></text>
<text transform="translate(901.35 1454) scale(1.1 1)" text-anchor="middle" font-size="60" font-weight="bold">0</text>
<text transform="translate(1026.87 1454) scale(1.1 1)" text-anchor="middle" font-size="60" font-weight="bold">2</text>
<text transform="translate(1152.39 1454) scale(1.1 1)" text-anchor="middle" font-size="60" font-weight="bold">4</text>
<text transform="translate(1277.91 1454) scale(1.1 1)" text-anchor="middle" font-size="60" font-weight="bold">6</text>
<text transform="translate(1403.43 1454) scale(1.1 1)" text-anchor="middle" font-size="60" font-weight="bold">8</text>
<text transform="translate(1528.95 1454) scale(1.1 1)" text-anchor="middle" font-size="60" font-weight="bold">10</text>
<text transform="translate(756 1526.2) scale(1.064 1)" font-size="63" font-weight="bold" font-style="italic">log(<tspan>f</tspan><tspan font-size="40" dy="15.5">r</tspan><tspan dy="-15.5">)</tspan></text>
<text transform="translate(91 832.5) rotate(-90) scale(1.05 1)" font-size="60" font-style="italic">δ(f<tspan font-size="38" dy="10">r</tspan><tspan dy="-10">)</tspan><tspan dy="-6" dx="1.5">,</tspan><tspan dy="6" dx="35.5">°</tspan></text>
<g clip-path="url(#inclip)">
<path d="M767.58,484.31 L768.64,485.33 L769.70,486.36 L770.76,487.39 L771.82,488.42 L772.88,489.44 L773.94,490.47 L775.00,491.49 L776.06,492.52 L777.12,493.54 L778.18,494.56 L779.23,495.58 L780.29,496.60 L781.35,497.63 L782.41,498.64 L783.47,499.66 L784.53,500.68 L785.59,501.70 L786.65,502.72 L787.71,503.73 L788.77,504.75 L789.83,505.76 L790.89,506.78 L791.94,507.79 L793.00,508.80 L794.06,509.81 L795.12,510.82 L796.18,511.83 L797.24,512.84 L798.30,513.85 L799.36,514.86 L800.42,515.87 L801.48,516.87 L802.54,517.88 L803.60,518.88 L804.65,519.88 L805.71,520.89 L806.77,521.89 L807.83,522.89 L808.89,523.89 L809.95,524.89 L811.01,525.89 L812.07,526.89 L813.13,527.88 L814.19,528.88 L815.25,529.88 L816.30,530.87 L817.36,531.86 L818.42,532.86 L819.48,533.85 L820.54,534.84 L821.60,535.83 L822.66,536.82 L823.72,537.81 L824.78,538.79 L825.84,539.78 L826.90,540.77 L827.96,541.75 L829.01,542.74 L830.07,543.72 L831.13,544.70 L832.19,545.68 L833.25,546.66 L834.31,547.64 L835.37,548.62 L836.43,549.60 L837.49,550.58 L838.55,551.55 L839.61,552.53 L840.67,553.50 L841.72,554.47 L842.78,555.45 L843.84,556.42 L844.90,557.39 L845.96,558.36 L847.02,559.33 L848.08,560.29 L849.14,561.26 L850.20,562.23 L851.26,563.19 L852.32,564.15 L853.38,565.12 L854.43,566.08 L855.49,567.04 L856.55,568.00 L857.61,568.96 L858.67,569.92 L859.73,570.87 L860.79,571.83 L861.85,572.78 L862.91,573.74 L863.97,574.69 L865.03,575.64 L866.09,576.59 L867.14,577.54 L868.20,578.49 L869.26,579.44 L870.32,580.39 L871.38,581.33 L872.44,582.28 L873.50,583.22 L874.56,584.17 L875.62,585.11 L876.68,586.05 L877.74,586.99 L878.79,587.93 L879.85,588.87 L880.91,589.80 L881.97,590.74 L883.03,591.67 L884.09,592.61 L885.15,593.54 L886.21,594.47 L887.27,595.40 L888.33,596.33 L889.39,597.26 L890.45,598.19 L891.50,599.11 L892.56,600.04 L893.62,600.96 L894.68,601.89 L895.74,602.81 L896.80,603.73 L897.86,604.65 L898.92,605.57 L899.98,606.49 L901.04,607.40 L902.10,608.32 L903.16,609.23 L904.21,610.15 L905.27,611.06 L906.33,611.97 L907.39,612.88 L908.45,613.79 L909.51,614.70 L910.57,615.61 L911.63,616.51 L912.69,617.42 L913.75,618.32 L914.81,619.23 L915.87,620.13 L916.92,621.03 L917.98,621.93 L919.04,622.83 L920.10,623.72 L921.16,624.62 L922.22,625.51 L923.28,626.41 L924.34,627.30 L925.40,628.19 L926.46,629.08 L927.52,629.97 L928.58,630.86 L929.63,631.75 L930.69,632.63 L931.75,633.52 L932.81,634.40 L933.87,635.29 L934.93,636.17 L935.99,637.05 L937.05,637.93 L938.11,638.81 L939.17,639.68 L940.23,640.56 L941.28,641.44 L942.34,642.31 L943.40,643.18 L944.46,644.05 L945.52,644.92 L946.58,645.79 L947.64,646.66 L948.70,647.53 L949.76,648.39 L950.82,649.26 L951.88,650.12 L952.94,650.98 L953.99,651.85 L955.05,652.71 L956.11,653.56 L957.17,654.42 L958.23,655.28 L959.29,656.13 L960.35,656.99 L961.41,657.84 L962.47,658.69 L963.53,659.54 L964.59,660.39 L965.65,661.24 L966.70,662.09 L967.76,662.94 L968.82,663.78 L969.88,664.63 L970.94,665.47 L972.00,666.31 L973.06,667.15 L974.12,667.99 L975.18,668.83 L976.24,669.66 L977.30,670.50 L978.36,671.33 L979.41,672.17 L980.47,673.00 L981.53,673.83 L982.59,674.66 L983.65,675.49 L984.71,676.32 L985.77,677.14 L986.83,677.97 L987.89,678.79 L988.95,679.62 L990.01,680.44 L991.07,681.26 L992.12,682.08 L993.18,682.90 L994.24,683.71 L995.30,684.53 L996.36,685.34 L997.42,686.16 L998.48,686.97 L999.54,687.78 L1000.60,688.59 L1001.66,689.40 L1002.72,690.20 L1003.77,691.01 L1004.83,691.82 L1005.89,692.62 L1006.95,693.42 L1008.01,694.22 L1009.07,695.02 L1010.13,695.82 L1011.19,696.62 L1012.25,697.42 L1013.31,698.21 L1014.37,699.01 L1015.43,699.80 L1016.48,700.59 L1017.54,701.38 L1018.60,702.17 L1019.66,702.96 L1020.72,703.75 L1021.78,704.53 L1022.84,705.32 L1023.90,706.10 L1024.96,706.88 L1026.02,707.67 L1027.08,708.45 L1028.14,709.22 L1029.19,710.00 L1030.25,710.78 L1031.31,711.55 L1032.37,712.33 L1033.43,713.10 L1034.49,713.87 L1035.55,714.64 L1036.61,715.41 L1037.67,716.18 L1038.73,716.95 L1039.79,717.71 L1040.85,718.48 L1041.90,719.24 L1042.96,720.00 L1044.02,720.76 L1045.08,721.52 L1046.14,722.28 L1047.20,723.04 L1048.26,723.79 L1049.32,724.55 L1050.38,725.30 L1051.44,726.06 L1052.50,726.81 L1053.56,727.56 L1054.61,728.31 L1055.67,729.05 L1056.73,729.80 L1057.79,730.54 L1058.85,731.29 L1059.91,732.03 L1060.97,732.77 L1062.03,733.51 L1063.09,734.25 L1064.15,734.99 L1065.21,735.73 L1066.26,736.46 L1067.32,737.20 L1068.38,737.93 L1069.44,738.66 L1070.50,739.39 L1071.56,740.12 L1072.62,740.85 L1073.68,741.58 L1074.74,742.31 L1075.80,743.03 L1076.86,743.75 L1077.92,744.48 L1078.97,745.20 L1080.03,745.92 L1081.09,746.64 L1082.15,747.36 L1083.21,748.07 L1084.27,748.79 L1085.33,749.50 L1086.39,750.21 L1087.45,750.93 L1088.51,751.64 L1089.57,752.35 L1090.63,753.05 L1091.68,753.76 L1092.74,754.47 L1093.80,755.17 L1094.86,755.88 L1095.92,756.58 L1096.98,757.28 L1098.04,757.98 L1099.10,758.68 L1100.16,759.37 L1101.22,760.07 L1102.28,760.77 L1103.34,761.46 L1104.39,762.15 L1105.45,762.84 L1106.51,763.54 L1107.57,764.22 L1108.63,764.91 L1109.69,765.60 L1110.75,766.28 L1111.81,766.97 L1112.87,767.65 L1113.93,768.33 L1114.99,769.02 L1116.04,769.70 L1117.10,770.37 L1118.16,771.05 L1119.22,771.73 L1120.28,772.40 L1121.34,773.08 L1122.40,773.75 L1123.46,774.42 L1124.52,775.09 L1125.58,775.76 L1126.64,776.43 L1127.70,777.10 L1128.75,777.76 L1129.81,778.43 L1130.87,779.09 L1131.93,779.75 L1132.99,780.41 L1134.05,781.07 L1135.11,781.73 L1136.17,782.39 L1137.23,783.04 L1138.29,783.70 L1139.35,784.35 L1140.41,785.01 L1141.46,785.66 L1142.52,786.31 L1143.58,786.96 L1144.64,787.61 L1145.70,788.25 L1146.76,788.90 L1147.82,789.54 L1148.88,790.19 L1149.94,790.83 L1151.00,791.47 L1152.06,792.11 L1153.12,792.75 L1154.17,793.39 L1155.23,794.02 L1156.29,794.66 L1157.35,795.29 L1158.41,795.93 L1159.47,796.56 L1160.53,797.19 L1161.59,797.82 L1162.65,798.45 L1163.71,799.07 L1164.77,799.70 L1165.83,800.33 L1166.88,800.95 L1167.94,801.57 L1169.00,802.19 L1170.06,802.81 L1171.12,803.43 L1172.18,804.05 L1173.24,804.67 L1174.30,805.28 L1175.36,805.90 L1176.42,806.51 L1177.48,807.13 L1178.53,807.74 L1179.59,808.35 L1180.65,808.96 L1181.71,809.56 L1182.77,810.17 L1183.83,810.78 L1184.89,811.38 L1185.95,811.98 L1187.01,812.59 L1188.07,813.19 L1189.13,813.79 L1190.19,814.39 L1191.24,814.99 L1192.30,815.58 L1193.36,816.18 L1194.42,816.77 L1195.48,817.37 L1196.54,817.96 L1197.60,818.55 L1198.66,819.14 L1199.72,819.73 L1200.78,820.32 L1201.84,820.90 L1202.90,821.49 L1203.95,822.07 L1205.01,822.66 L1206.07,823.24 L1207.13,823.82 L1208.19,824.40 L1209.25,824.98 L1210.31,825.56 L1211.37,826.13 L1212.43,826.71 L1213.49,827.28 L1214.55,827.86 L1215.61,828.43 L1216.66,829.00 L1217.72,829.57 L1218.78,830.14 L1219.84,830.71 L1220.90,831.27 L1221.96,831.84 L1223.02,832.40 L1224.08,832.97 L1225.14,833.53 L1226.20,834.09 L1227.26,834.65 L1228.32,835.21 L1229.37,835.77 L1230.43,836.33 L1231.49,836.88 L1232.55,837.44 L1233.61,837.99 L1234.67,838.54 L1235.73,839.09 L1236.79,839.64 L1237.85,840.19 L1238.91,840.74 L1239.97,841.29 L1241.02,841.84 L1242.08,842.38 L1243.14,842.93 L1244.20,843.47 L1245.26,844.01 L1246.32,844.55 L1247.38,845.09 L1248.44,845.63 L1249.50,846.17 L1250.56,846.70 L1251.62,847.24 L1252.68,847.77 L1253.73,848.31 L1254.79,848.84 L1255.85,849.37 L1256.91,849.90 L1257.97,850.43 L1259.03,850.96 L1260.09,851.49 L1261.15,852.01 L1262.21,852.54 L1263.27,853.06 L1264.33,853.59 L1265.39,854.11 L1266.44,854.63 L1267.50,855.15 L1268.56,855.67 L1269.62,856.18 L1270.68,856.70 L1271.74,857.22 L1272.80,857.73 L1273.86,858.24 L1274.92,858.76 L1275.98,859.27 L1277.04,859.78 L1278.10,860.29 L1279.15,860.80 L1280.21,861.31 L1281.27,861.81 L1282.33,862.32 L1283.39,862.82 L1284.45,863.32 L1285.51,863.83 L1286.57,864.33 L1287.63,864.83 L1288.69,865.33 L1289.75,865.83 L1290.81,866.32 L1291.86,866.82 L1292.92,867.32 L1293.98,867.81 L1295.04,868.30 L1296.10,868.79 L1297.16,869.29 L1298.22,869.78 L1299.28,870.27 L1300.34,870.75 L1301.40,871.24 L1302.46,871.73 L1303.51,872.21 L1304.57,872.70 L1305.63,873.18 L1306.69,873.66 L1307.75,874.14 L1308.81,874.62 L1309.87,875.10 L1310.93,875.58 L1311.99,876.06 L1313.05,876.53 L1314.11,877.01 L1315.17,877.48 L1316.22,877.96 L1317.28,878.43 L1318.34,878.90 L1319.40,879.37 L1320.46,879.84 L1321.52,880.31 L1322.58,880.78 L1323.64,881.24 L1324.70,881.71 L1325.76,882.17 L1326.82,882.64 L1327.88,883.10 L1328.93,883.56 L1329.99,884.02 L1331.05,884.48 L1332.11,884.94 L1333.17,885.40 L1334.23,885.86 L1335.29,886.31 L1336.35,886.77 L1337.41,887.22 L1338.47,887.67 L1339.53,888.13 L1340.59,888.58 L1341.64,889.03 L1342.70,889.48 L1343.76,889.92 L1344.82,890.37 L1345.88,890.82 L1346.94,891.26 L1348.00,891.71 L1349.06,892.15 L1350.12,892.59 L1351.18,893.04 L1352.24,893.48 L1353.30,893.92 L1354.35,894.36 L1355.41,894.79 L1356.47,895.23 L1357.53,895.67 L1358.59,896.10 L1359.65,896.54 L1360.71,896.97 L1361.77,897.40 L1362.83,897.83 L1363.89,898.26 L1364.95,898.69 L1366.00,899.12 L1367.06,899.55 L1368.12,899.98 L1369.18,900.40 L1370.24,900.83 L1371.30,901.25 L1372.36,901.68 L1373.42,902.10 L1374.48,902.52 L1375.54,902.94 L1376.60,903.36 L1377.66,903.78 L1378.71,904.20 L1379.77,904.61 L1380.83,905.03 L1381.89,905.45 L1382.95,905.86 L1384.01,906.27 L1385.07,906.69 L1386.13,907.10 L1387.19,907.51 L1388.25,907.92 L1389.31,908.33 L1390.37,908.73 L1391.42,909.14 L1392.48,909.55 L1393.54,909.95 L1394.60,910.36 L1395.66,910.76 L1396.72,911.16 L1397.78,911.57 L1398.84,911.97 L1399.90,912.37 L1400.96,912.77 L1402.02,913.17" fill="none" stroke="#515151" stroke-width="4.2" stroke-linecap="round" stroke-linejoin="round"/>
<path d="M768.63,461.19 L768.64,461.20 L769.70,462.38 L770.76,463.56 L771.82,464.73 L772.88,465.91 L773.94,467.08 L775.00,468.26 L776.06,469.43 L776.57,469.99M796.09,491.32 L796.18,491.41 L797.24,492.55 L798.30,493.69 L799.36,494.83 L800.42,495.97 L801.48,497.10 L802.54,498.24 L803.60,499.37 L804.19,500.00M824.10,521.02 L824.78,521.73 L825.84,522.83 L826.90,523.93 L827.96,525.03 L829.01,526.12 L830.07,527.22 L831.13,528.32 L832.19,529.41 L832.36,529.58M852.69,550.27 L853.38,550.96 L854.43,552.02 L855.49,553.08 L856.55,554.14 L857.61,555.20 L858.67,556.25 L859.73,557.31 L860.79,558.36 L861.12,558.69M881.88,579.01 L881.97,579.09 L883.03,580.12 L884.09,581.14 L885.15,582.15 L886.21,583.17 L887.27,584.18 L888.33,585.20 L889.39,586.21 L890.45,587.22 L890.50,587.27M911.72,607.20 L912.69,608.10 L913.75,609.07 L914.81,610.05 L915.87,611.02 L916.92,612.00 L917.98,612.97 L919.04,613.94 L920.10,614.91 L920.52,615.29M942.21,634.79 L942.34,634.91 L943.40,635.84 L944.46,636.78 L945.52,637.71 L946.58,638.64 L947.64,639.57 L948.70,640.50 L949.76,641.43 L950.82,642.35 L951.22,642.70M973.39,661.74 L974.12,662.36 L975.18,663.25 L976.24,664.14 L977.30,665.03 L978.36,665.92 L979.41,666.80 L980.47,667.69 L981.53,668.57 L982.59,669.46 L982.60,669.46M1005.28,688.00 L1005.89,688.49 L1006.95,689.34 L1008.01,690.19 L1009.07,691.04 L1010.13,691.88 L1011.19,692.72 L1012.25,693.57 L1013.31,694.41 L1014.37,695.24 L1014.69,695.50M1037.89,713.50 L1038.73,714.13 L1039.79,714.93 L1040.85,715.74 L1041.90,716.54 L1042.96,717.34 L1044.02,718.14 L1045.08,718.93 L1046.14,719.73 L1047.20,720.52 L1047.53,720.76M1071.26,738.17 L1071.56,738.39 L1072.62,739.15 L1073.68,739.91 L1074.74,740.66 L1075.80,741.42 L1076.86,742.17 L1077.92,742.93 L1078.97,743.68 L1080.03,744.43 L1081.09,745.18 L1081.11,745.19M1105.39,761.97 L1105.45,762.01 L1106.51,762.73 L1107.57,763.44 L1108.63,764.15 L1109.69,764.87 L1110.75,765.58 L1111.81,766.28 L1112.87,766.99 L1113.93,767.70 L1114.99,768.40 L1115.46,768.72M1140.28,784.83 L1140.41,784.91 L1141.46,785.58 L1142.52,786.25 L1143.58,786.92 L1144.64,787.59 L1145.70,788.25 L1146.76,788.92 L1147.82,789.58 L1148.88,790.24 L1149.94,790.90 L1150.57,791.30M1175.91,806.70 L1176.42,807.00 L1177.48,807.63 L1178.53,808.26 L1179.59,808.88 L1180.65,809.50 L1181.71,810.13 L1182.77,810.75 L1183.83,811.37 L1184.89,811.99 L1185.95,812.60 L1186.42,812.88M1212.28,827.56 L1212.43,827.64 L1213.49,828.23 L1214.55,828.81 L1215.61,829.40 L1216.66,829.98 L1217.72,830.56 L1218.78,831.14 L1219.84,831.72 L1220.90,832.29 L1221.96,832.87 L1222.99,833.43M1249.34,847.37 L1249.50,847.45 L1250.56,847.99 L1251.62,848.54 L1252.68,849.08 L1253.73,849.62 L1254.79,850.16 L1255.85,850.70 L1256.91,851.24 L1257.97,851.78 L1259.03,852.31 L1260.09,852.85 L1260.25,852.93M1287.06,866.11 L1287.63,866.38 L1288.69,866.89 L1289.75,867.40 L1290.81,867.90 L1291.86,868.40 L1292.92,868.90 L1293.98,869.41 L1295.04,869.91 L1296.10,870.40 L1297.16,870.90 L1298.16,871.37M1325.39,883.80 L1325.76,883.97 L1326.82,884.44 L1327.88,884.91 L1328.93,885.37 L1329.99,885.84 L1331.05,886.31 L1332.11,886.77 L1333.17,887.24 L1334.23,887.70 L1335.29,888.16 L1336.35,888.62 L1336.65,888.76M1364.28,900.46 L1364.95,900.73 L1366.00,901.17 L1367.06,901.60 L1368.12,902.04 L1369.18,902.47 L1370.24,902.90 L1371.30,903.34 L1372.36,903.77 L1373.42,904.20 L1374.48,904.63 L1375.54,905.05 L1375.69,905.11" fill="none" stroke="#F14040" stroke-width="4.2" stroke-linecap="round" stroke-linejoin="round"/>
<path d="M783.26,477.36 L783.46,477.57M799.97,495.49 L800.17,495.70M816.88,513.47 L817.08,513.67M834.00,531.28 L834.20,531.48M851.34,548.91 L851.54,549.11M868.89,566.36 L869.10,566.56M886.68,583.62 L886.89,583.82M904.70,600.68 L904.91,600.87M922.96,617.52 L923.17,617.71M941.47,634.13 L941.68,634.32M960.22,650.51 L960.35,650.62 L960.44,650.70M979.23,666.65 L979.41,666.80 L979.45,666.84M998.50,682.53 L998.72,682.71M1018.04,698.14 L1018.26,698.32M1037.84,713.46 L1038.07,713.63M1057.92,728.48 L1058.15,728.65M1078.28,743.18 L1078.51,743.35M1098.91,757.56 L1099.10,757.69 L1099.15,757.73M1119.83,771.60 L1120.07,771.76M1141.02,785.30 L1141.26,785.45M1162.48,798.63 L1162.65,798.73 L1162.73,798.78M1184.21,811.59 L1184.47,811.74M1206.21,824.18 L1206.47,824.32M1228.47,836.39 L1228.73,836.52M1250.97,848.20 L1251.23,848.34M1273.72,859.64 L1273.86,859.71 L1273.98,859.77M1296.69,870.68 L1296.96,870.81M1319.88,881.34 L1320.15,881.46M1343.28,891.62 L1343.55,891.74M1366.87,901.52 L1367.06,901.60 L1367.14,901.64M1390.64,911.06 L1390.91,911.17" fill="none" stroke="#1A6FDF" stroke-width="4.2" stroke-linecap="round" stroke-linejoin="round"/>
<path d="M768.74,507.92 L769.70,508.59 L770.76,509.33 L771.82,510.07 L772.88,510.81 L773.94,511.55 L775.00,512.29 L776.06,513.03 L777.12,513.77 L778.18,514.51 L779.23,515.25 L780.29,515.99 L781.35,516.73 L781.84,517.07M796.32,527.25 L796.72,527.53M811.16,537.76 L812.07,538.40 L813.13,539.15 L814.19,539.91 L815.25,540.66 L816.30,541.41 L817.36,542.17 L818.42,542.92 L819.48,543.68 L820.54,544.43 L821.60,545.19 L822.66,545.94 L823.72,546.70 L824.17,547.02M838.54,557.33 L838.55,557.33 L838.93,557.61M853.27,567.96 L853.38,568.04 L854.43,568.81 L855.49,569.58 L856.55,570.35 L857.61,571.11 L858.67,571.88 L859.73,572.65 L860.79,573.42 L861.85,574.20 L862.91,574.97 L863.97,575.74 L865.03,576.51 L866.09,577.28 L866.17,577.34M880.42,587.78 L880.81,588.07M895.03,598.56 L895.74,599.09 L896.80,599.87 L897.86,600.66 L898.92,601.45 L899.98,602.23 L901.04,603.02 L902.10,603.81 L903.16,604.59 L904.21,605.38 L905.27,606.17 L906.33,606.96 L907.39,607.75 L907.82,608.07M921.95,618.65 L922.22,618.86 L922.33,618.94M936.42,629.58 L937.05,630.05 L938.11,630.86 L939.17,631.66 L940.23,632.46 L941.28,633.27 L942.34,634.07 L943.40,634.88 L944.46,635.69 L945.52,636.49 L946.58,637.30 L947.64,638.11 L948.70,638.92 L949.09,639.21M963.09,649.94 L963.47,650.24M977.42,661.02 L978.36,661.75 L979.41,662.57 L980.47,663.40 L981.53,664.22 L982.59,665.05 L983.65,665.87 L984.71,666.70 L985.77,667.52 L986.83,668.35 L987.89,669.18 L988.95,670.01 L989.96,670.80M1003.81,681.68 L1004.19,681.98M1018.00,692.92 L1018.60,693.40 L1019.66,694.24 L1020.72,695.09 L1021.78,695.93 L1022.84,696.78 L1023.90,697.62 L1024.96,698.47 L1026.02,699.32 L1027.08,700.16 L1028.14,701.01 L1029.19,701.86 L1030.25,702.71 L1030.41,702.83M1044.11,713.87 L1044.49,714.17M1058.14,725.27 L1058.85,725.85 L1059.91,726.72 L1060.97,727.58 L1062.03,728.45 L1063.09,729.32 L1064.15,730.18 L1065.21,731.05 L1066.26,731.92 L1067.32,732.79 L1068.38,733.66 L1069.44,734.53 L1070.41,735.32M1083.99,746.49 L1084.27,746.72 L1084.36,746.80M1097.97,757.93 L1098.04,757.99 L1099.10,758.85 L1100.16,759.71 L1101.22,760.56 L1102.28,761.42 L1103.34,762.28 L1104.39,763.13 L1105.45,763.99 L1106.51,764.84 L1107.57,765.69 L1108.63,766.54 L1109.69,767.39 L1110.33,767.90M1124.17,778.80 L1124.52,779.07 L1124.55,779.09M1138.61,789.76 L1139.35,790.30 L1140.41,791.09 L1141.46,791.87 L1142.52,792.64 L1143.58,793.41 L1144.64,794.18 L1145.70,794.95 L1146.76,795.71 L1147.82,796.47 L1148.88,797.23 L1149.94,797.98 L1151.00,798.73 L1151.54,799.11M1166.19,809.08 L1166.60,809.34M1181.71,818.74 L1181.71,818.74 L1182.77,819.36 L1183.83,819.98 L1184.89,820.59 L1185.95,821.20 L1187.01,821.80 L1188.07,822.40 L1189.13,822.99 L1190.19,823.58 L1191.24,824.16 L1192.30,824.73 L1193.36,825.30 L1194.42,825.87 L1195.48,826.43 L1195.78,826.58M1211.95,834.36 L1212.40,834.56M1229.25,841.03 L1229.37,841.07 L1230.43,841.42 L1231.49,841.76 L1232.55,842.09 L1233.61,842.42 L1234.67,842.73 L1235.73,843.04 L1236.79,843.35 L1237.85,843.64 L1238.91,843.93 L1239.97,844.22 L1241.02,844.49 L1242.08,844.76 L1243.14,845.02 L1244.20,845.27 L1245.01,845.46M1262.98,848.50 L1263.27,848.53 L1263.47,848.55M1281.72,849.32 L1282.33,849.30 L1283.39,849.27 L1284.45,849.23 L1285.51,849.18 L1286.57,849.13 L1287.63,849.06 L1288.69,848.99 L1289.75,848.91 L1290.81,848.82 L1291.86,848.73 L1292.92,848.62 L1293.98,848.51 L1295.04,848.39 L1296.10,848.26 L1297.16,848.13 L1298.15,847.99M1315.97,844.32 L1316.22,844.25 L1316.45,844.19M1333.56,838.35 L1334.23,838.07 L1335.29,837.63 L1336.35,837.18 L1337.41,836.72 L1338.47,836.26 L1339.53,835.78 L1340.59,835.30 L1341.64,834.81 L1342.70,834.31 L1343.76,833.81 L1344.82,833.29 L1345.88,832.77 L1346.94,832.24 L1348.00,831.71 L1348.29,831.56M1363.92,822.92 L1364.34,822.67M1379.45,813.28 L1379.77,813.08 L1380.83,812.39 L1381.89,811.70 L1382.95,811.01 L1384.01,810.32 L1385.07,809.63 L1386.13,808.93 L1387.19,808.23 L1388.25,807.53 L1389.31,806.83 L1390.37,806.13 L1391.42,805.42 L1392.48,804.71 L1392.83,804.48" fill="none" stroke="#37AD6B" stroke-width="4.2" stroke-linecap="round" stroke-linejoin="round"/>
<path d="M767.58,430.77 L768.64,432.25 L769.70,433.72 L770.76,435.18 L771.82,436.65 L772.88,438.11 L773.16,438.49M782.80,451.61 L783.08,451.98M792.88,465.00 L793.00,465.16 L793.17,465.37M803.11,478.29 L803.60,478.91 L804.65,480.27 L805.71,481.62 L806.77,482.97 L807.83,484.32 L808.89,485.67 L809.92,486.97M820.11,499.73 L820.40,500.10M830.74,512.77 L831.04,513.13M841.51,525.70 L841.72,525.95 L842.78,527.21 L843.84,528.46 L844.90,529.71 L845.96,530.96 L847.02,532.21 L848.08,533.45 L848.67,534.14M859.38,546.54 L859.69,546.90M870.56,559.19 L870.87,559.54M881.89,571.72 L881.97,571.80 L883.03,572.96 L884.09,574.11 L885.15,575.26 L886.21,576.41 L887.27,577.55 L888.33,578.70 L889.39,579.84 L889.43,579.88M900.70,591.86 L901.03,592.20M912.47,604.05 L912.69,604.27 L912.80,604.39M924.41,616.10 L925.40,617.09 L926.46,618.14 L927.52,619.19 L928.58,620.23 L929.63,621.28 L930.69,622.32 L931.75,623.36 L932.34,623.94M944.22,635.42 L944.46,635.65 L944.57,635.75M956.62,647.09 L956.97,647.41M969.19,658.59 L969.88,659.22 L970.94,660.17 L972.00,661.12 L973.06,662.07 L974.12,663.02 L975.18,663.96 L976.24,664.91 L977.30,665.84 L977.54,666.06M990.05,676.98 L990.41,677.30M1003.08,688.05 L1003.45,688.35M1016.30,698.93 L1016.48,699.08 L1017.54,699.94 L1018.60,700.80 L1019.66,701.65 L1020.72,702.51 L1021.78,703.36 L1022.84,704.20 L1023.90,705.05 L1024.96,705.89 L1025.08,705.99M1038.20,716.28 L1038.59,716.58M1051.88,726.69 L1052.26,726.98M1065.72,736.90 L1066.26,737.30 L1067.32,738.06 L1068.38,738.83 L1069.44,739.60 L1070.50,740.36 L1071.56,741.12 L1072.62,741.88 L1073.68,742.63 L1074.74,743.39 L1074.91,743.51M1088.63,753.14 L1089.03,753.41M1102.91,762.84 L1103.31,763.11M1117.35,772.35 L1118.16,772.87 L1119.22,773.55 L1120.28,774.24 L1121.34,774.92 L1122.40,775.59 L1123.46,776.27 L1124.52,776.95 L1125.58,777.62 L1126.64,778.29 L1126.93,778.48M1141.22,787.38 L1141.46,787.53 L1141.64,787.63M1156.09,796.32 L1156.29,796.44 L1156.51,796.57M1171.11,805.05 L1171.12,805.06 L1172.18,805.66 L1173.24,806.26 L1174.30,806.86 L1175.36,807.46 L1176.42,808.06 L1177.48,808.66 L1178.53,809.25 L1179.59,809.84 L1180.65,810.44 L1181.06,810.66M1195.90,818.79 L1196.33,819.02M1211.32,826.92 L1211.37,826.95 L1211.75,827.15M1226.87,834.83 L1227.26,835.03 L1228.32,835.55 L1229.37,836.08 L1230.43,836.60 L1231.49,837.13 L1232.55,837.65 L1233.61,838.17 L1234.67,838.69 L1235.73,839.20 L1236.79,839.72 L1237.17,839.91M1252.50,847.23 L1252.68,847.31 L1252.95,847.44M1268.41,854.54 L1268.56,854.61 L1268.85,854.74M1284.43,861.62 L1284.45,861.63 L1285.51,862.09 L1286.57,862.55 L1287.63,863.00 L1288.69,863.46 L1289.75,863.91 L1290.81,864.36 L1291.86,864.82 L1292.92,865.27 L1293.98,865.71 L1295.02,866.16M1310.78,872.69 L1310.93,872.75 L1311.24,872.87M1327.10,879.19 L1327.56,879.37M1343.52,885.49 L1343.76,885.58 L1344.82,885.98 L1345.88,886.37 L1346.94,886.77 L1348.00,887.16 L1349.06,887.56 L1350.12,887.95 L1351.18,888.34 L1352.24,888.73 L1353.30,889.12 L1354.35,889.51 L1354.36,889.51M1370.46,895.30 L1370.92,895.47M1387.11,901.07 L1387.19,901.10 L1387.57,901.23" fill="none" stroke="#B177DE" stroke-width="4.2" stroke-linecap="round" stroke-linejoin="round"/>
</g>
<rect x="766.1" y="342.3" width="4.2" height="621.3" fill="#000"/>
<rect x="765.5" y="959.1" width="638.3" height="4.5" fill="#000"/>
<rect x="770.2" y="957.50" width="10.3" height="4.8" fill="#000"/>
<rect x="770.2" y="834.50" width="10.3" height="4.8" fill="#000"/>
<rect x="770.2" y="711.50" width="10.3" height="4.8" fill="#000"/>
<rect x="770.2" y="588.50" width="10.3" height="4.8" fill="#000"/>
<rect x="770.2" y="465.50" width="10.3" height="4.8" fill="#000"/>
<rect x="770.2" y="342.50" width="10.3" height="4.8" fill="#000"/>
<rect x="770.2" y="896.00" width="4.5" height="4.8" fill="#000"/>
<rect x="770.2" y="773.00" width="4.5" height="4.8" fill="#000"/>
<rect x="770.2" y="650.00" width="4.5" height="4.8" fill="#000"/>
<rect x="770.2" y="527.00" width="4.5" height="4.8" fill="#000"/>
<rect x="770.2" y="404.00" width="4.5" height="4.8" fill="#000"/>
<rect x="785.01" y="949.8" width="4.8" height="9.5" fill="#000"/>
<rect x="884.14" y="949.8" width="4.8" height="9.5" fill="#000"/>
<rect x="983.27" y="949.8" width="4.8" height="9.5" fill="#000"/>
<rect x="1082.40" y="949.8" width="4.8" height="9.5" fill="#000"/>
<rect x="1181.53" y="949.8" width="4.8" height="9.5" fill="#000"/>
<rect x="1280.66" y="949.8" width="4.8" height="9.5" fill="#000"/>
<rect x="1379.79" y="949.8" width="4.8" height="9.5" fill="#000"/>
<rect x="834.57" y="955" width="4.8" height="4.3" fill="#000"/>
<rect x="933.71" y="955" width="4.8" height="4.3" fill="#000"/>
<rect x="1032.83" y="955" width="4.8" height="4.3" fill="#000"/>
<rect x="1131.96" y="955" width="4.8" height="4.3" fill="#000"/>
<rect x="1231.09" y="955" width="4.8" height="4.3" fill="#000"/>
<rect x="1330.22" y="955" width="4.8" height="4.3" fill="#000"/>
<text transform="translate(755 972.70) scale(1.12 1)" text-anchor="end" font-size="50" font-weight="bold">2</text>
<text transform="translate(755 849.70) scale(1.12 1)" text-anchor="end" font-size="50" font-weight="bold">4</text>
<text transform="translate(755 726.70) scale(1.12 1)" text-anchor="end" font-size="50" font-weight="bold">6</text>
<text transform="translate(755 603.70) scale(1.12 1)" text-anchor="end" font-size="50" font-weight="bold">8</text>
<text transform="translate(755 480.70) scale(1.12 1)" text-anchor="end" font-size="50" font-weight="bold">10</text>
<text transform="translate(755 357.70) scale(1.12 1)" text-anchor="end" font-size="50" font-weight="bold">12</text>
<text transform="translate(786.21 1009.3) scale(1.12 1)" text-anchor="middle" font-size="50" font-weight="bold"><tspan stroke="#000" stroke-width="0.7" dy="2">−</tspan><tspan dy="-2" dx="-2.5">3</tspan></text>
<text transform="translate(885.34 1009.3) scale(1.12 1)" text-anchor="middle" font-size="50" font-weight="bold"><tspan stroke="#000" stroke-width="0.7" dy="2">−</tspan><tspan dy="-2" dx="-2.5">2</tspan></text>
<text transform="translate(984.47 1009.3) scale(1.12 1)" text-anchor="middle" font-size="50" font-weight="bold"><tspan stroke="#000" stroke-width="0.7" dy="2">−</tspan><tspan dy="-2" dx="-2.5">1</tspan></text>
<text transform="translate(1084.80 1009.3) scale(1.12 1)" text-anchor="middle" font-size="50" font-weight="bold">0</text>
<text transform="translate(1183.93 1009.3) scale(1.12 1)" text-anchor="middle" font-size="50" font-weight="bold">1</text>
<text transform="translate(1283.06 1009.3) scale(1.12 1)" text-anchor="middle" font-size="50" font-weight="bold">2</text>
<text transform="translate(1382.19 1009.3) scale(1.12 1)" text-anchor="middle" font-size="50" font-weight="bold">3</text>
<text transform="translate(1011.8 1069.5) scale(1.08 1)" font-size="41" font-weight="bold" font-style="italic">log(<tspan>f</tspan><tspan font-size="26" dy="10.5">r</tspan><tspan dy="-10.5">)</tspan></text>
<text transform="translate(696 713.5) rotate(-90) scale(1.05 1)" font-size="40" font-style="italic">δ(f<tspan font-size="25" dy="7">r</tspan><tspan dy="-7">)</tspan><tspan dy="-4" dx="1">,</tspan><tspan dy="4" dx="22.5">°</tspan></text>
<path d="M1117.7,247.8 L1251.9,247.8" fill="none" stroke="#515151" stroke-width="10" stroke-linecap="round"/>
<text transform="translate(1266 266.60) scale(1.1 1)" font-size="48">Model 1</text>
<path d="M1117.70,314.60 L1165.40,314.60M1230.00,314.60 L1251.90,314.60" fill="none" stroke="#F14040" stroke-width="10" stroke-linecap="round"/>
<text transform="translate(1266 333.40) scale(1.1 1)" font-size="48">Model 2</text>
<path d="M1117.70,381.70 L1125.20,381.70M1185.70,381.70 L1193.20,381.70" fill="none" stroke="#1A6FDF" stroke-width="10" stroke-linecap="round"/>
<text transform="translate(1266 400.50) scale(1.1 1)" font-size="48">Model 3</text>
<path d="M1117.70,448.30 L1176.30,448.30M1213.90,448.30 L1221.80,448.30" fill="none" stroke="#37AD6B" stroke-width="10" stroke-linecap="round"/>
<text transform="translate(1266 467.10) scale(1.1 1)" font-size="48">Model 4</text>
<path d="M1117.70,514.80 L1159.90,514.80M1197.50,514.80 L1205.40,514.80M1242.70,514.80 L1250.60,514.80" fill="none" stroke="#B177DE" stroke-width="10" stroke-linecap="round"/>
<text transform="translate(1266 533.60) scale(1.1 1)" font-size="48">Model 5</text>
</svg>
</body></html>
